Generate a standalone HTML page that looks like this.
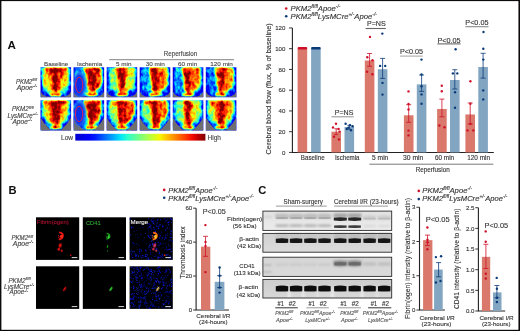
<!DOCTYPE html>
<html><head><meta charset="utf-8"><style>
html,body{margin:0;padding:0;background:#fff;width:520px;height:331px;overflow:hidden}
svg{display:block;will-change:transform}
text{font-family:"Liberation Sans", sans-serif}
</style></head><body><svg width="520" height="331" viewBox="0 0 520 331" font-family='"Liberation Sans", sans-serif'><defs><filter id="jet0" x="0" y="0" width="1" height="1" color-interpolation-filters="sRGB">
<feGaussianBlur in="SourceGraphic" stdDeviation="1.3" result="b"/>
<feTurbulence type="fractalNoise" baseFrequency="0.28 0.22" numOctaves="2" seed="3" result="n"/>
<feColorMatrix in="n" type="matrix" values="1 0 0 0 0  1 0 0 0 0  1 0 0 0 0  0 0 0 0 1" result="ng"/>
<feComposite in="b" in2="ng" operator="arithmetic" k1="0" k2="1" k3="0.5" k4="-0.25" result="c"/>
<feComponentTransfer in="c">
<feFuncR type="table" tableValues="0.000 0.000 0.000 0.000 0.000 0.000 0.000 0.000 0.000 0.000 0.000 0.000 0.000 0.000 0.000 0.081 0.161 0.242 0.323 0.403 0.484 0.565 0.645 0.726 0.806 0.887 0.968 1.000 1.000 1.000 1.000 1.000 1.000 1.000 1.000 1.000 0.955 0.841 0.727 0.614 0.500"/>
<feFuncG type="table" tableValues="0.000 0.000 0.000 0.000 0.000 0.000 0.100 0.200 0.300 0.400 0.500 0.600 0.700 0.800 0.900 1.000 1.000 1.000 1.000 1.000 1.000 1.000 1.000 1.000 1.000 1.000 0.963 0.870 0.778 0.685 0.593 0.500 0.407 0.315 0.222 0.130 0.037 0.000 0.000 0.000 0.000"/>
<feFuncB type="table" tableValues="0.800 0.845 0.891 0.936 0.982 1.000 1.000 1.000 1.000 1.000 1.000 1.000 1.000 1.000 0.968 0.887 0.806 0.726 0.645 0.565 0.484 0.403 0.323 0.242 0.161 0.081 0.000 0.000 0.000 0.000 0.000 0.000 0.000 0.000 0.000 0.000 0.000 0.000 0.000 0.000 0.000"/>
<feFuncA type="linear" slope="0" intercept="1"/>
</feComponentTransfer>
</filter><filter id="jet1" x="0" y="0" width="1" height="1" color-interpolation-filters="sRGB">
<feGaussianBlur in="SourceGraphic" stdDeviation="1.3" result="b"/>
<feTurbulence type="fractalNoise" baseFrequency="0.28 0.22" numOctaves="2" seed="10" result="n"/>
<feColorMatrix in="n" type="matrix" values="1 0 0 0 0  1 0 0 0 0  1 0 0 0 0  0 0 0 0 1" result="ng"/>
<feComposite in="b" in2="ng" operator="arithmetic" k1="0" k2="1" k3="0.5" k4="-0.25" result="c"/>
<feComponentTransfer in="c">
<feFuncR type="table" tableValues="0.000 0.000 0.000 0.000 0.000 0.000 0.000 0.000 0.000 0.000 0.000 0.000 0.000 0.000 0.000 0.081 0.161 0.242 0.323 0.403 0.484 0.565 0.645 0.726 0.806 0.887 0.968 1.000 1.000 1.000 1.000 1.000 1.000 1.000 1.000 1.000 0.955 0.841 0.727 0.614 0.500"/>
<feFuncG type="table" tableValues="0.000 0.000 0.000 0.000 0.000 0.000 0.100 0.200 0.300 0.400 0.500 0.600 0.700 0.800 0.900 1.000 1.000 1.000 1.000 1.000 1.000 1.000 1.000 1.000 1.000 1.000 0.963 0.870 0.778 0.685 0.593 0.500 0.407 0.315 0.222 0.130 0.037 0.000 0.000 0.000 0.000"/>
<feFuncB type="table" tableValues="0.800 0.845 0.891 0.936 0.982 1.000 1.000 1.000 1.000 1.000 1.000 1.000 1.000 1.000 0.968 0.887 0.806 0.726 0.645 0.565 0.484 0.403 0.323 0.242 0.161 0.081 0.000 0.000 0.000 0.000 0.000 0.000 0.000 0.000 0.000 0.000 0.000 0.000 0.000 0.000 0.000"/>
<feFuncA type="linear" slope="0" intercept="1"/>
</feComponentTransfer>
</filter><filter id="jet2" x="0" y="0" width="1" height="1" color-interpolation-filters="sRGB">
<feGaussianBlur in="SourceGraphic" stdDeviation="1.3" result="b"/>
<feTurbulence type="fractalNoise" baseFrequency="0.28 0.22" numOctaves="2" seed="17" result="n"/>
<feColorMatrix in="n" type="matrix" values="1 0 0 0 0  1 0 0 0 0  1 0 0 0 0  0 0 0 0 1" result="ng"/>
<feComposite in="b" in2="ng" operator="arithmetic" k1="0" k2="1" k3="0.5" k4="-0.25" result="c"/>
<feComponentTransfer in="c">
<feFuncR type="table" tableValues="0.000 0.000 0.000 0.000 0.000 0.000 0.000 0.000 0.000 0.000 0.000 0.000 0.000 0.000 0.000 0.081 0.161 0.242 0.323 0.403 0.484 0.565 0.645 0.726 0.806 0.887 0.968 1.000 1.000 1.000 1.000 1.000 1.000 1.000 1.000 1.000 0.955 0.841 0.727 0.614 0.500"/>
<feFuncG type="table" tableValues="0.000 0.000 0.000 0.000 0.000 0.000 0.100 0.200 0.300 0.400 0.500 0.600 0.700 0.800 0.900 1.000 1.000 1.000 1.000 1.000 1.000 1.000 1.000 1.000 1.000 1.000 0.963 0.870 0.778 0.685 0.593 0.500 0.407 0.315 0.222 0.130 0.037 0.000 0.000 0.000 0.000"/>
<feFuncB type="table" tableValues="0.800 0.845 0.891 0.936 0.982 1.000 1.000 1.000 1.000 1.000 1.000 1.000 1.000 1.000 0.968 0.887 0.806 0.726 0.645 0.565 0.484 0.403 0.323 0.242 0.161 0.081 0.000 0.000 0.000 0.000 0.000 0.000 0.000 0.000 0.000 0.000 0.000 0.000 0.000 0.000 0.000"/>
<feFuncA type="linear" slope="0" intercept="1"/>
</feComponentTransfer>
</filter><filter id="jet3" x="0" y="0" width="1" height="1" color-interpolation-filters="sRGB">
<feGaussianBlur in="SourceGraphic" stdDeviation="1.3" result="b"/>
<feTurbulence type="fractalNoise" baseFrequency="0.28 0.22" numOctaves="2" seed="24" result="n"/>
<feColorMatrix in="n" type="matrix" values="1 0 0 0 0  1 0 0 0 0  1 0 0 0 0  0 0 0 0 1" result="ng"/>
<feComposite in="b" in2="ng" operator="arithmetic" k1="0" k2="1" k3="0.5" k4="-0.25" result="c"/>
<feComponentTransfer in="c">
<feFuncR type="table" tableValues="0.000 0.000 0.000 0.000 0.000 0.000 0.000 0.000 0.000 0.000 0.000 0.000 0.000 0.000 0.000 0.081 0.161 0.242 0.323 0.403 0.484 0.565 0.645 0.726 0.806 0.887 0.968 1.000 1.000 1.000 1.000 1.000 1.000 1.000 1.000 1.000 0.955 0.841 0.727 0.614 0.500"/>
<feFuncG type="table" tableValues="0.000 0.000 0.000 0.000 0.000 0.000 0.100 0.200 0.300 0.400 0.500 0.600 0.700 0.800 0.900 1.000 1.000 1.000 1.000 1.000 1.000 1.000 1.000 1.000 1.000 1.000 0.963 0.870 0.778 0.685 0.593 0.500 0.407 0.315 0.222 0.130 0.037 0.000 0.000 0.000 0.000"/>
<feFuncB type="table" tableValues="0.800 0.845 0.891 0.936 0.982 1.000 1.000 1.000 1.000 1.000 1.000 1.000 1.000 1.000 0.968 0.887 0.806 0.726 0.645 0.565 0.484 0.403 0.323 0.242 0.161 0.081 0.000 0.000 0.000 0.000 0.000 0.000 0.000 0.000 0.000 0.000 0.000 0.000 0.000 0.000 0.000"/>
<feFuncA type="linear" slope="0" intercept="1"/>
</feComponentTransfer>
</filter><filter id="jet4" x="0" y="0" width="1" height="1" color-interpolation-filters="sRGB">
<feGaussianBlur in="SourceGraphic" stdDeviation="1.3" result="b"/>
<feTurbulence type="fractalNoise" baseFrequency="0.28 0.22" numOctaves="2" seed="31" result="n"/>
<feColorMatrix in="n" type="matrix" values="1 0 0 0 0  1 0 0 0 0  1 0 0 0 0  0 0 0 0 1" result="ng"/>
<feComposite in="b" in2="ng" operator="arithmetic" k1="0" k2="1" k3="0.5" k4="-0.25" result="c"/>
<feComponentTransfer in="c">
<feFuncR type="table" tableValues="0.000 0.000 0.000 0.000 0.000 0.000 0.000 0.000 0.000 0.000 0.000 0.000 0.000 0.000 0.000 0.081 0.161 0.242 0.323 0.403 0.484 0.565 0.645 0.726 0.806 0.887 0.968 1.000 1.000 1.000 1.000 1.000 1.000 1.000 1.000 1.000 0.955 0.841 0.727 0.614 0.500"/>
<feFuncG type="table" tableValues="0.000 0.000 0.000 0.000 0.000 0.000 0.100 0.200 0.300 0.400 0.500 0.600 0.700 0.800 0.900 1.000 1.000 1.000 1.000 1.000 1.000 1.000 1.000 1.000 1.000 1.000 0.963 0.870 0.778 0.685 0.593 0.500 0.407 0.315 0.222 0.130 0.037 0.000 0.000 0.000 0.000"/>
<feFuncB type="table" tableValues="0.800 0.845 0.891 0.936 0.982 1.000 1.000 1.000 1.000 1.000 1.000 1.000 1.000 1.000 0.968 0.887 0.806 0.726 0.645 0.565 0.484 0.403 0.323 0.242 0.161 0.081 0.000 0.000 0.000 0.000 0.000 0.000 0.000 0.000 0.000 0.000 0.000 0.000 0.000 0.000 0.000"/>
<feFuncA type="linear" slope="0" intercept="1"/>
</feComponentTransfer>
</filter><filter id="jet5" x="0" y="0" width="1" height="1" color-interpolation-filters="sRGB">
<feGaussianBlur in="SourceGraphic" stdDeviation="1.3" result="b"/>
<feTurbulence type="fractalNoise" baseFrequency="0.28 0.22" numOctaves="2" seed="38" result="n"/>
<feColorMatrix in="n" type="matrix" values="1 0 0 0 0  1 0 0 0 0  1 0 0 0 0  0 0 0 0 1" result="ng"/>
<feComposite in="b" in2="ng" operator="arithmetic" k1="0" k2="1" k3="0.5" k4="-0.25" result="c"/>
<feComponentTransfer in="c">
<feFuncR type="table" tableValues="0.000 0.000 0.000 0.000 0.000 0.000 0.000 0.000 0.000 0.000 0.000 0.000 0.000 0.000 0.000 0.081 0.161 0.242 0.323 0.403 0.484 0.565 0.645 0.726 0.806 0.887 0.968 1.000 1.000 1.000 1.000 1.000 1.000 1.000 1.000 1.000 0.955 0.841 0.727 0.614 0.500"/>
<feFuncG type="table" tableValues="0.000 0.000 0.000 0.000 0.000 0.000 0.100 0.200 0.300 0.400 0.500 0.600 0.700 0.800 0.900 1.000 1.000 1.000 1.000 1.000 1.000 1.000 1.000 1.000 1.000 1.000 0.963 0.870 0.778 0.685 0.593 0.500 0.407 0.315 0.222 0.130 0.037 0.000 0.000 0.000 0.000"/>
<feFuncB type="table" tableValues="0.800 0.845 0.891 0.936 0.982 1.000 1.000 1.000 1.000 1.000 1.000 1.000 1.000 1.000 0.968 0.887 0.806 0.726 0.645 0.565 0.484 0.403 0.323 0.242 0.161 0.081 0.000 0.000 0.000 0.000 0.000 0.000 0.000 0.000 0.000 0.000 0.000 0.000 0.000 0.000 0.000"/>
<feFuncA type="linear" slope="0" intercept="1"/>
</feComponentTransfer>
</filter><filter id="jet6" x="0" y="0" width="1" height="1" color-interpolation-filters="sRGB">
<feGaussianBlur in="SourceGraphic" stdDeviation="1.3" result="b"/>
<feTurbulence type="fractalNoise" baseFrequency="0.28 0.22" numOctaves="2" seed="45" result="n"/>
<feColorMatrix in="n" type="matrix" values="1 0 0 0 0  1 0 0 0 0  1 0 0 0 0  0 0 0 0 1" result="ng"/>
<feComposite in="b" in2="ng" operator="arithmetic" k1="0" k2="1" k3="0.5" k4="-0.25" result="c"/>
<feComponentTransfer in="c">
<feFuncR type="table" tableValues="0.000 0.000 0.000 0.000 0.000 0.000 0.000 0.000 0.000 0.000 0.000 0.000 0.000 0.000 0.000 0.081 0.161 0.242 0.323 0.403 0.484 0.565 0.645 0.726 0.806 0.887 0.968 1.000 1.000 1.000 1.000 1.000 1.000 1.000 1.000 1.000 0.955 0.841 0.727 0.614 0.500"/>
<feFuncG type="table" tableValues="0.000 0.000 0.000 0.000 0.000 0.000 0.100 0.200 0.300 0.400 0.500 0.600 0.700 0.800 0.900 1.000 1.000 1.000 1.000 1.000 1.000 1.000 1.000 1.000 1.000 1.000 0.963 0.870 0.778 0.685 0.593 0.500 0.407 0.315 0.222 0.130 0.037 0.000 0.000 0.000 0.000"/>
<feFuncB type="table" tableValues="0.800 0.845 0.891 0.936 0.982 1.000 1.000 1.000 1.000 1.000 1.000 1.000 1.000 1.000 0.968 0.887 0.806 0.726 0.645 0.565 0.484 0.403 0.323 0.242 0.161 0.081 0.000 0.000 0.000 0.000 0.000 0.000 0.000 0.000 0.000 0.000 0.000 0.000 0.000 0.000 0.000"/>
<feFuncA type="linear" slope="0" intercept="1"/>
</feComponentTransfer>
</filter><filter id="jet7" x="0" y="0" width="1" height="1" color-interpolation-filters="sRGB">
<feGaussianBlur in="SourceGraphic" stdDeviation="1.3" result="b"/>
<feTurbulence type="fractalNoise" baseFrequency="0.28 0.22" numOctaves="2" seed="52" result="n"/>
<feColorMatrix in="n" type="matrix" values="1 0 0 0 0  1 0 0 0 0  1 0 0 0 0  0 0 0 0 1" result="ng"/>
<feComposite in="b" in2="ng" operator="arithmetic" k1="0" k2="1" k3="0.5" k4="-0.25" result="c"/>
<feComponentTransfer in="c">
<feFuncR type="table" tableValues="0.000 0.000 0.000 0.000 0.000 0.000 0.000 0.000 0.000 0.000 0.000 0.000 0.000 0.000 0.000 0.081 0.161 0.242 0.323 0.403 0.484 0.565 0.645 0.726 0.806 0.887 0.968 1.000 1.000 1.000 1.000 1.000 1.000 1.000 1.000 1.000 0.955 0.841 0.727 0.614 0.500"/>
<feFuncG type="table" tableValues="0.000 0.000 0.000 0.000 0.000 0.000 0.100 0.200 0.300 0.400 0.500 0.600 0.700 0.800 0.900 1.000 1.000 1.000 1.000 1.000 1.000 1.000 1.000 1.000 1.000 1.000 0.963 0.870 0.778 0.685 0.593 0.500 0.407 0.315 0.222 0.130 0.037 0.000 0.000 0.000 0.000"/>
<feFuncB type="table" tableValues="0.800 0.845 0.891 0.936 0.982 1.000 1.000 1.000 1.000 1.000 1.000 1.000 1.000 1.000 0.968 0.887 0.806 0.726 0.645 0.565 0.484 0.403 0.323 0.242 0.161 0.081 0.000 0.000 0.000 0.000 0.000 0.000 0.000 0.000 0.000 0.000 0.000 0.000 0.000 0.000 0.000"/>
<feFuncA type="linear" slope="0" intercept="1"/>
</feComponentTransfer>
</filter><filter id="jet8" x="0" y="0" width="1" height="1" color-interpolation-filters="sRGB">
<feGaussianBlur in="SourceGraphic" stdDeviation="1.3" result="b"/>
<feTurbulence type="fractalNoise" baseFrequency="0.28 0.22" numOctaves="2" seed="59" result="n"/>
<feColorMatrix in="n" type="matrix" values="1 0 0 0 0  1 0 0 0 0  1 0 0 0 0  0 0 0 0 1" result="ng"/>
<feComposite in="b" in2="ng" operator="arithmetic" k1="0" k2="1" k3="0.5" k4="-0.25" result="c"/>
<feComponentTransfer in="c">
<feFuncR type="table" tableValues="0.000 0.000 0.000 0.000 0.000 0.000 0.000 0.000 0.000 0.000 0.000 0.000 0.000 0.000 0.000 0.081 0.161 0.242 0.323 0.403 0.484 0.565 0.645 0.726 0.806 0.887 0.968 1.000 1.000 1.000 1.000 1.000 1.000 1.000 1.000 1.000 0.955 0.841 0.727 0.614 0.500"/>
<feFuncG type="table" tableValues="0.000 0.000 0.000 0.000 0.000 0.000 0.100 0.200 0.300 0.400 0.500 0.600 0.700 0.800 0.900 1.000 1.000 1.000 1.000 1.000 1.000 1.000 1.000 1.000 1.000 1.000 0.963 0.870 0.778 0.685 0.593 0.500 0.407 0.315 0.222 0.130 0.037 0.000 0.000 0.000 0.000"/>
<feFuncB type="table" tableValues="0.800 0.845 0.891 0.936 0.982 1.000 1.000 1.000 1.000 1.000 1.000 1.000 1.000 1.000 0.968 0.887 0.806 0.726 0.645 0.565 0.484 0.403 0.323 0.242 0.161 0.081 0.000 0.000 0.000 0.000 0.000 0.000 0.000 0.000 0.000 0.000 0.000 0.000 0.000 0.000 0.000"/>
<feFuncA type="linear" slope="0" intercept="1"/>
</feComponentTransfer>
</filter><filter id="jet9" x="0" y="0" width="1" height="1" color-interpolation-filters="sRGB">
<feGaussianBlur in="SourceGraphic" stdDeviation="1.3" result="b"/>
<feTurbulence type="fractalNoise" baseFrequency="0.28 0.22" numOctaves="2" seed="66" result="n"/>
<feColorMatrix in="n" type="matrix" values="1 0 0 0 0  1 0 0 0 0  1 0 0 0 0  0 0 0 0 1" result="ng"/>
<feComposite in="b" in2="ng" operator="arithmetic" k1="0" k2="1" k3="0.5" k4="-0.25" result="c"/>
<feComponentTransfer in="c">
<feFuncR type="table" tableValues="0.000 0.000 0.000 0.000 0.000 0.000 0.000 0.000 0.000 0.000 0.000 0.000 0.000 0.000 0.000 0.081 0.161 0.242 0.323 0.403 0.484 0.565 0.645 0.726 0.806 0.887 0.968 1.000 1.000 1.000 1.000 1.000 1.000 1.000 1.000 1.000 0.955 0.841 0.727 0.614 0.500"/>
<feFuncG type="table" tableValues="0.000 0.000 0.000 0.000 0.000 0.000 0.100 0.200 0.300 0.400 0.500 0.600 0.700 0.800 0.900 1.000 1.000 1.000 1.000 1.000 1.000 1.000 1.000 1.000 1.000 1.000 0.963 0.870 0.778 0.685 0.593 0.500 0.407 0.315 0.222 0.130 0.037 0.000 0.000 0.000 0.000"/>
<feFuncB type="table" tableValues="0.800 0.845 0.891 0.936 0.982 1.000 1.000 1.000 1.000 1.000 1.000 1.000 1.000 1.000 0.968 0.887 0.806 0.726 0.645 0.565 0.484 0.403 0.323 0.242 0.161 0.081 0.000 0.000 0.000 0.000 0.000 0.000 0.000 0.000 0.000 0.000 0.000 0.000 0.000 0.000 0.000"/>
<feFuncA type="linear" slope="0" intercept="1"/>
</feComponentTransfer>
</filter><filter id="jet10" x="0" y="0" width="1" height="1" color-interpolation-filters="sRGB">
<feGaussianBlur in="SourceGraphic" stdDeviation="1.3" result="b"/>
<feTurbulence type="fractalNoise" baseFrequency="0.28 0.22" numOctaves="2" seed="73" result="n"/>
<feColorMatrix in="n" type="matrix" values="1 0 0 0 0  1 0 0 0 0  1 0 0 0 0  0 0 0 0 1" result="ng"/>
<feComposite in="b" in2="ng" operator="arithmetic" k1="0" k2="1" k3="0.5" k4="-0.25" result="c"/>
<feComponentTransfer in="c">
<feFuncR type="table" tableValues="0.000 0.000 0.000 0.000 0.000 0.000 0.000 0.000 0.000 0.000 0.000 0.000 0.000 0.000 0.000 0.081 0.161 0.242 0.323 0.403 0.484 0.565 0.645 0.726 0.806 0.887 0.968 1.000 1.000 1.000 1.000 1.000 1.000 1.000 1.000 1.000 0.955 0.841 0.727 0.614 0.500"/>
<feFuncG type="table" tableValues="0.000 0.000 0.000 0.000 0.000 0.000 0.100 0.200 0.300 0.400 0.500 0.600 0.700 0.800 0.900 1.000 1.000 1.000 1.000 1.000 1.000 1.000 1.000 1.000 1.000 1.000 0.963 0.870 0.778 0.685 0.593 0.500 0.407 0.315 0.222 0.130 0.037 0.000 0.000 0.000 0.000"/>
<feFuncB type="table" tableValues="0.800 0.845 0.891 0.936 0.982 1.000 1.000 1.000 1.000 1.000 1.000 1.000 1.000 1.000 0.968 0.887 0.806 0.726 0.645 0.565 0.484 0.403 0.323 0.242 0.161 0.081 0.000 0.000 0.000 0.000 0.000 0.000 0.000 0.000 0.000 0.000 0.000 0.000 0.000 0.000 0.000"/>
<feFuncA type="linear" slope="0" intercept="1"/>
</feComponentTransfer>
</filter><filter id="jet11" x="0" y="0" width="1" height="1" color-interpolation-filters="sRGB">
<feGaussianBlur in="SourceGraphic" stdDeviation="1.3" result="b"/>
<feTurbulence type="fractalNoise" baseFrequency="0.28 0.22" numOctaves="2" seed="80" result="n"/>
<feColorMatrix in="n" type="matrix" values="1 0 0 0 0  1 0 0 0 0  1 0 0 0 0  0 0 0 0 1" result="ng"/>
<feComposite in="b" in2="ng" operator="arithmetic" k1="0" k2="1" k3="0.5" k4="-0.25" result="c"/>
<feComponentTransfer in="c">
<feFuncR type="table" tableValues="0.000 0.000 0.000 0.000 0.000 0.000 0.000 0.000 0.000 0.000 0.000 0.000 0.000 0.000 0.000 0.081 0.161 0.242 0.323 0.403 0.484 0.565 0.645 0.726 0.806 0.887 0.968 1.000 1.000 1.000 1.000 1.000 1.000 1.000 1.000 1.000 0.955 0.841 0.727 0.614 0.500"/>
<feFuncG type="table" tableValues="0.000 0.000 0.000 0.000 0.000 0.000 0.100 0.200 0.300 0.400 0.500 0.600 0.700 0.800 0.900 1.000 1.000 1.000 1.000 1.000 1.000 1.000 1.000 1.000 1.000 1.000 0.963 0.870 0.778 0.685 0.593 0.500 0.407 0.315 0.222 0.130 0.037 0.000 0.000 0.000 0.000"/>
<feFuncB type="table" tableValues="0.800 0.845 0.891 0.936 0.982 1.000 1.000 1.000 1.000 1.000 1.000 1.000 1.000 1.000 0.968 0.887 0.806 0.726 0.645 0.565 0.484 0.403 0.323 0.242 0.161 0.081 0.000 0.000 0.000 0.000 0.000 0.000 0.000 0.000 0.000 0.000 0.000 0.000 0.000 0.000 0.000"/>
<feFuncA type="linear" slope="0" intercept="1"/>
</feComponentTransfer>
</filter><linearGradient id="cbar" x1="0" x2="1" y1="0" y2="0"><stop offset="0.00" stop-color="#0000cc"/><stop offset="0.05" stop-color="#0000e3"/><stop offset="0.10" stop-color="#0000fa"/><stop offset="0.15" stop-color="#0019ff"/><stop offset="0.20" stop-color="#004dff"/><stop offset="0.25" stop-color="#0080ff"/><stop offset="0.30" stop-color="#00b2ff"/><stop offset="0.35" stop-color="#00e5f7"/><stop offset="0.40" stop-color="#29ffce"/><stop offset="0.45" stop-color="#52ffa5"/><stop offset="0.50" stop-color="#7bff7b"/><stop offset="0.55" stop-color="#a5ff52"/><stop offset="0.60" stop-color="#ceff29"/><stop offset="0.65" stop-color="#f7f600"/><stop offset="0.70" stop-color="#ffc600"/><stop offset="0.75" stop-color="#ff9700"/><stop offset="0.80" stop-color="#ff6800"/><stop offset="0.85" stop-color="#ff3900"/><stop offset="0.90" stop-color="#f30900"/><stop offset="0.95" stop-color="#b90000"/><stop offset="1.00" stop-color="#800000"/></linearGradient><filter id="isch" x="-30%" y="-30%" width="160%" height="160%"><feGaussianBlur stdDeviation="0.9"/></filter><clipPath id="cp0"><rect x="40.5" y="67.2" width="30.6" height="30.1"/></clipPath><clipPath id="cp1"><rect x="73.56" y="67.2" width="30.6" height="30.1"/></clipPath><clipPath id="cp2"><rect x="106.62" y="67.2" width="30.6" height="30.1"/></clipPath><clipPath id="cp3"><rect x="139.68" y="67.2" width="30.6" height="30.1"/></clipPath><clipPath id="cp4"><rect x="172.74" y="67.2" width="30.6" height="30.1"/></clipPath><clipPath id="cp5"><rect x="205.8" y="67.2" width="30.6" height="30.1"/></clipPath><clipPath id="cp6"><rect x="40.5" y="100.3" width="30.6" height="30.1"/></clipPath><clipPath id="cp7"><rect x="73.56" y="100.3" width="30.6" height="30.1"/></clipPath><clipPath id="cp8"><rect x="106.62" y="100.3" width="30.6" height="30.1"/></clipPath><clipPath id="cp9"><rect x="139.68" y="100.3" width="30.6" height="30.1"/></clipPath><clipPath id="cp10"><rect x="172.74" y="100.3" width="30.6" height="30.1"/></clipPath><clipPath id="cp11"><rect x="205.8" y="100.3" width="30.6" height="30.1"/></clipPath><filter id="soft" x="-50%" y="-50%" width="200%" height="200%"><feGaussianBlur stdDeviation="0.45"/></filter><filter id="bsoft" x="-20%" y="-60%" width="140%" height="220%"><feGaussianBlur stdDeviation="0.55 0.7"/></filter><filter id="bsoft2" x="-20%" y="-50%" width="140%" height="200%"><feGaussianBlur stdDeviation="1.2 1.0"/></filter><linearGradient id="g1" x1="0" y1="0" x2="0" y2="1"><stop offset="0" stop-color="#e2e2e2"/><stop offset="1" stop-color="#ececec"/></linearGradient><linearGradient id="g2" x1="0" y1="0" x2="0" y2="1"><stop offset="0" stop-color="#d0d0d0"/><stop offset="0.5" stop-color="#d6d6d6"/><stop offset="1" stop-color="#dcdcdc"/></linearGradient><linearGradient id="g3" x1="0" y1="0" x2="0" y2="1"><stop offset="0" stop-color="#d6d6d6"/><stop offset="1" stop-color="#dadada"/></linearGradient><linearGradient id="g4" x1="0" y1="0" x2="0" y2="1"><stop offset="0" stop-color="#cdcdcd"/><stop offset="0.5" stop-color="#d2d2d2"/><stop offset="1" stop-color="#d8d8d8"/></linearGradient></defs><rect x="0" y="0" width="520" height="331" fill="#fff"/><text x="7.4" y="49.3" font-size="11.6" fill="#111" font-weight="bold">A</text><text x="44" y="66.0" font-size="6.2" fill="#4a4a4a" textLength="24.3" lengthAdjust="spacingAndGlyphs" stroke="#4a4a4a" stroke-width="0.12">Baseline</text><text x="77" y="66.0" font-size="6.2" fill="#4a4a4a" textLength="25.2" lengthAdjust="spacingAndGlyphs" stroke="#4a4a4a" stroke-width="0.12">Ischemia</text><text x="116.1" y="66.0" font-size="6.2" fill="#4a4a4a" textLength="15.4" lengthAdjust="spacingAndGlyphs" stroke="#4a4a4a" stroke-width="0.12">5 min</text><text x="145.7" y="66.0" font-size="6.2" fill="#4a4a4a" textLength="19.2" lengthAdjust="spacingAndGlyphs" stroke="#4a4a4a" stroke-width="0.12">30 min</text><text x="178" y="66.0" font-size="6.2" fill="#4a4a4a" textLength="19.2" lengthAdjust="spacingAndGlyphs" stroke="#4a4a4a" stroke-width="0.12">60 min</text><text x="210.3" y="66.0" font-size="6.2" fill="#4a4a4a" textLength="22.6" lengthAdjust="spacingAndGlyphs" stroke="#4a4a4a" stroke-width="0.12">120 min</text><line x1="109.2" y1="59.7" x2="234" y2="59.7" stroke="#9a9a9a" stroke-width="1.2"/><text x="163.8" y="56.3" font-size="6.6" fill="#444" textLength="33.4" lengthAdjust="spacingAndGlyphs" stroke="#444" stroke-width="0.12">Reperfusion</text><text x="37.1" y="83.6" font-size="6.6" fill="#404040" text-anchor="end" font-style="italic" textLength="21.2" lengthAdjust="spacingAndGlyphs" stroke="#404040" stroke-width="0.12">PKM2<tspan font-size="4.22" dy="-2.44">fl/fl</tspan></text><text x="37.1" y="89.8" font-size="6.6" fill="#404040" text-anchor="end" font-style="italic" textLength="20.4" lengthAdjust="spacingAndGlyphs" stroke="#404040" stroke-width="0.12">Apoe<tspan font-size="4.22" dy="-2.44">-/-</tspan></text><text x="22.8" y="111.4" font-size="6.6" fill="#404040" text-anchor="middle" font-style="italic" textLength="21.8" lengthAdjust="spacingAndGlyphs" stroke="#404040" stroke-width="0.12">PKM2<tspan font-size="4.22" dy="-2.44">fl/fl</tspan></text><text x="22.6" y="117.8" font-size="6.6" fill="#404040" text-anchor="middle" font-style="italic" textLength="30.2" lengthAdjust="spacingAndGlyphs" stroke="#404040" stroke-width="0.12">LysMCre<tspan font-size="4.22" dy="-2.44">+/-</tspan></text><text x="22.2" y="123.7" font-size="6.6" fill="#404040" text-anchor="middle" font-style="italic" textLength="19.6" lengthAdjust="spacingAndGlyphs" stroke="#404040" stroke-width="0.12">Apoe<tspan font-size="4.22" dy="-2.44">-/-</tspan></text><g clip-path="url(#cp0)"><g filter="url(#jet0)"><rect x="40.5" y="67.2" width="30.6" height="30.1" fill="#212121"/><path d="M41.72,67.20 L69.88,67.20 L70.49,82.25 L68.04,91.28 L59.47,96.40 L52.13,96.40 L43.56,91.28 L41.11,82.25 Z" fill="#575757"/><path d="M43.56,67.20 L55.80,67.20 L55.80,92.78 L49.68,91.28 L44.17,86.77 L42.95,77.73 Z" fill="#a8a8a8"/><path d="M55.80,67.20 L68.04,67.20 L68.65,77.73 L67.43,86.77 L61.92,91.28 L55.80,92.78 Z" fill="#a8a8a8"/><path d="M44.17,67.20 L67.43,67.20 L64.98,72.62 L46.62,72.62 Z" fill="#ebebeb"/><path d="M47.23,67.20 L64.37,67.20 L58.86,91.28 L52.74,91.28 Z" fill="#dbdbdb"/><path d="M50.60,67.20 L61.00,67.20 L57.33,91.88 L54.27,91.88 Z" fill="#fafafa"/><ellipse cx="55.80" cy="94.29" rx="6.12" ry="1.66" fill="#f7f7f7"/></g><path d="M40.50,91.28 L42.34,94.29 L47.23,97.30 L40.50,97.30 Z" fill="#6f6f6f"/><path d="M71.10,91.28 L69.26,94.29 L64.37,97.30 L71.10,97.30 Z" fill="#6f6f6f"/><rect x="40.5" y="96.50000000000001" width="30.6" height="0.8" fill="#6f6f6f"/></g><g clip-path="url(#cp1)"><g filter="url(#jet1)"><rect x="73.56" y="67.2" width="30.6" height="30.1" fill="#212121"/><path d="M74.78,67.20 L102.94,67.20 L103.55,82.25 L101.10,91.28 L92.53,96.40 L85.19,96.40 L76.62,91.28 L74.17,82.25 Z" fill="#4c4c4c"/><path d="M76.62,67.20 L88.86,67.20 L88.86,92.78 L82.74,91.28 L77.23,86.77 L76.01,77.73 Z" fill="#4c4c4c"/><path d="M88.86,67.20 L101.10,67.20 L101.71,77.73 L100.49,86.77 L94.98,91.28 L88.86,92.78 Z" fill="#cccccc"/><ellipse cx="95.59" cy="79.24" rx="4.28" ry="9.03" fill="#e6e6e6"/><path d="M83.96,67.20 L99.88,67.20 L94.98,91.28 L88.86,91.28 Z" fill="#e6e6e6"/><path d="M87.64,67.20 L96.20,67.20 L93.45,91.88 L90.39,91.88 Z" fill="#f7f7f7"/><ellipse cx="91.92" cy="94.29" rx="6.12" ry="1.66" fill="#f7f7f7"/></g><path d="M73.56,91.28 L75.40,94.29 L80.29,97.30 L73.56,97.30 Z" fill="#6f6f6f"/><path d="M104.16,91.28 L102.32,94.29 L97.43,97.30 L104.16,97.30 Z" fill="#6f6f6f"/><rect x="73.56" y="96.50000000000001" width="30.6" height="0.8" fill="#6f6f6f"/><g filter="url(#isch)"><ellipse cx="79.68" cy="84.36" rx="6.43" ry="12.94" fill="#2a7aff"/><ellipse cx="79.37" cy="84.96" rx="5.20" ry="11.14" fill="#0c2ee8"/></g><ellipse cx="79.22" cy="84.96" rx="3.52" ry="7.74" fill="none" stroke="#d8205a" stroke-width="1"/></g><g clip-path="url(#cp2)"><g filter="url(#jet2)"><rect x="106.62" y="67.2" width="30.6" height="30.1" fill="#212121"/><path d="M107.84,67.20 L136.00,67.20 L136.61,82.25 L134.16,91.28 L125.59,96.40 L118.25,96.40 L109.68,91.28 L107.23,82.25 Z" fill="#424242"/><path d="M109.68,67.20 L121.92,67.20 L121.92,92.78 L115.80,91.28 L110.29,86.77 L109.07,77.73 Z" fill="#707070"/><path d="M121.92,67.20 L134.16,67.20 L134.77,77.73 L133.55,86.77 L128.04,91.28 L121.92,92.78 Z" fill="#a8a8a8"/><ellipse cx="114.88" cy="80.75" rx="4.59" ry="8.43" fill="#858585"/><ellipse cx="128.65" cy="79.24" rx="4.28" ry="9.03" fill="#999999"/><path d="M115.80,67.20 L128.04,67.20 L124.98,91.28 L118.86,91.28 Z" fill="#dbdbdb"/><path d="M117.94,67.20 L125.90,67.20 L123.45,91.88 L120.39,91.88 Z" fill="#fafafa"/><ellipse cx="121.92" cy="94.29" rx="6.12" ry="1.66" fill="#f7f7f7"/></g><path d="M106.62,91.28 L108.46,94.29 L113.35,97.30 L106.62,97.30 Z" fill="#6f6f6f"/><path d="M137.22,91.28 L135.38,94.29 L130.49,97.30 L137.22,97.30 Z" fill="#6f6f6f"/><rect x="106.62" y="96.50000000000001" width="30.6" height="0.8" fill="#6f6f6f"/></g><g clip-path="url(#cp3)"><g filter="url(#jet3)"><rect x="139.68" y="67.2" width="30.6" height="30.1" fill="#212121"/><path d="M140.90,67.20 L169.06,67.20 L169.67,82.25 L167.22,91.28 L158.65,96.40 L151.31,96.40 L142.74,91.28 L140.29,82.25 Z" fill="#383838"/><path d="M142.74,67.20 L154.98,67.20 L154.98,92.78 L148.86,91.28 L143.35,86.77 L142.13,77.73 Z" fill="#575757"/><path d="M154.98,67.20 L167.22,67.20 L167.83,77.73 L166.61,86.77 L161.10,91.28 L154.98,92.78 Z" fill="#cccccc"/><ellipse cx="147.94" cy="80.75" rx="4.59" ry="8.43" fill="#474747"/><path d="M148.86,67.20 L161.10,67.20 L158.04,91.28 L151.92,91.28 Z" fill="#e0e0e0"/><path d="M151.92,67.20 L158.04,67.20 L156.51,91.88 L153.45,91.88 Z" fill="#f7f7f7"/><ellipse cx="154.98" cy="94.29" rx="6.12" ry="1.66" fill="#f7f7f7"/></g><path d="M139.68,91.28 L141.52,94.29 L146.41,97.30 L139.68,97.30 Z" fill="#6f6f6f"/><path d="M170.28,91.28 L168.44,94.29 L163.55,97.30 L170.28,97.30 Z" fill="#6f6f6f"/><rect x="139.68" y="96.50000000000001" width="30.6" height="0.8" fill="#6f6f6f"/></g><g clip-path="url(#cp4)"><g filter="url(#jet4)"><rect x="172.74" y="67.2" width="30.6" height="30.1" fill="#212121"/><path d="M173.96,67.20 L202.12,67.20 L202.73,82.25 L200.28,91.28 L191.71,96.40 L184.37,96.40 L175.80,91.28 L173.35,82.25 Z" fill="#383838"/><path d="M175.80,67.20 L188.04,67.20 L188.04,92.78 L181.92,91.28 L176.41,86.77 L175.19,77.73 Z" fill="#525252"/><path d="M188.04,67.20 L200.28,67.20 L200.89,77.73 L199.67,86.77 L194.16,91.28 L188.04,92.78 Z" fill="#c7c7c7"/><ellipse cx="181.00" cy="80.75" rx="4.59" ry="8.43" fill="#424242"/><path d="M181.92,67.20 L194.16,67.20 L191.10,91.28 L184.98,91.28 Z" fill="#dedede"/><path d="M184.98,67.20 L191.10,67.20 L189.57,91.88 L186.51,91.88 Z" fill="#f7f7f7"/><ellipse cx="188.04" cy="94.29" rx="6.12" ry="1.66" fill="#f7f7f7"/></g><path d="M172.74,91.28 L174.58,94.29 L179.47,97.30 L172.74,97.30 Z" fill="#6f6f6f"/><path d="M203.34,91.28 L201.50,94.29 L196.61,97.30 L203.34,97.30 Z" fill="#6f6f6f"/><rect x="172.74" y="96.50000000000001" width="30.6" height="0.8" fill="#6f6f6f"/></g><g clip-path="url(#cp5)"><g filter="url(#jet5)"><rect x="205.8" y="67.2" width="30.6" height="30.1" fill="#212121"/><path d="M207.02,67.20 L235.18,67.20 L235.79,82.25 L233.34,91.28 L224.77,96.40 L217.43,96.40 L208.86,91.28 L206.41,82.25 Z" fill="#333333"/><path d="M208.86,67.20 L221.10,67.20 L221.10,92.78 L214.98,91.28 L209.47,86.77 L208.25,77.73 Z" fill="#4c4c4c"/><path d="M221.10,67.20 L233.34,67.20 L233.95,77.73 L232.73,86.77 L227.22,91.28 L221.10,92.78 Z" fill="#c2c2c2"/><ellipse cx="214.06" cy="80.75" rx="4.59" ry="8.43" fill="#3d3d3d"/><path d="M214.98,67.20 L227.22,67.20 L224.16,91.28 L218.04,91.28 Z" fill="#dbdbdb"/><path d="M218.04,67.20 L224.16,67.20 L222.63,91.88 L219.57,91.88 Z" fill="#f5f5f5"/><ellipse cx="221.10" cy="94.29" rx="6.12" ry="1.66" fill="#f7f7f7"/></g><path d="M205.80,91.28 L207.64,94.29 L212.53,97.30 L205.80,97.30 Z" fill="#6f6f6f"/><path d="M236.40,91.28 L234.56,94.29 L229.67,97.30 L236.40,97.30 Z" fill="#6f6f6f"/><rect x="205.8" y="96.50000000000001" width="30.6" height="0.8" fill="#6f6f6f"/></g><g clip-path="url(#cp6)"><g filter="url(#jet6)"><rect x="40.5" y="100.3" width="30.6" height="30.1" fill="#212121"/><path d="M41.42,100.30 L70.18,100.30 L70.49,115.35 L66.82,121.37 L60.70,128.29 L50.90,128.29 L44.78,121.37 L41.11,115.35 Z" fill="#575757"/><path d="M43.56,100.30 L55.80,100.30 L55.80,125.88 L51.52,124.38 L46.01,118.96 L43.25,112.34 Z" fill="#a8a8a8"/><path d="M55.80,100.30 L68.04,100.30 L68.35,112.34 L65.59,118.96 L60.08,124.38 L55.80,125.88 Z" fill="#adadad"/><path d="M44.17,100.30 L67.43,100.30 L64.98,105.72 L46.62,105.72 Z" fill="#ededed"/><path d="M47.23,100.30 L64.37,100.30 L58.86,124.38 L52.74,124.38 Z" fill="#e0e0e0"/><path d="M50.60,100.30 L61.00,100.30 L57.33,124.98 L54.27,124.98 Z" fill="#fafafa"/><ellipse cx="55.80" cy="127.39" rx="6.12" ry="1.66" fill="#f7f7f7"/></g><path d="M40.50,117.46 L44.17,123.18 L50.90,130.40 L40.50,130.40 Z" fill="#6f6f6f"/><path d="M71.10,117.46 L67.43,123.18 L60.70,130.40 L71.10,130.40 Z" fill="#6f6f6f"/><rect x="40.5" y="129.6" width="30.6" height="0.8" fill="#6f6f6f"/></g><g clip-path="url(#cp7)"><g filter="url(#jet7)"><rect x="73.56" y="100.3" width="30.6" height="30.1" fill="#212121"/><path d="M74.48,100.30 L103.24,100.30 L103.55,115.35 L99.88,121.37 L93.76,128.29 L83.96,128.29 L77.84,121.37 L74.17,115.35 Z" fill="#4c4c4c"/><path d="M76.62,100.30 L88.86,100.30 L88.86,125.88 L84.58,124.38 L79.07,118.96 L76.31,112.34 Z" fill="#4c4c4c"/><path d="M88.86,100.30 L101.10,100.30 L101.41,112.34 L98.65,118.96 L93.14,124.38 L88.86,125.88 Z" fill="#d6d6d6"/><ellipse cx="95.59" cy="112.34" rx="4.28" ry="9.03" fill="#e6e6e6"/><path d="M83.96,100.30 L99.88,100.30 L94.98,124.38 L88.86,124.38 Z" fill="#e8e8e8"/><path d="M87.33,100.30 L96.51,100.30 L93.45,124.98 L90.39,124.98 Z" fill="#fafafa"/><ellipse cx="91.92" cy="127.39" rx="6.12" ry="1.66" fill="#f7f7f7"/></g><path d="M73.56,117.46 L77.23,123.18 L83.96,130.40 L73.56,130.40 Z" fill="#6f6f6f"/><path d="M104.16,117.46 L100.49,123.18 L93.76,130.40 L104.16,130.40 Z" fill="#6f6f6f"/><rect x="73.56" y="129.6" width="30.6" height="0.8" fill="#6f6f6f"/><g filter="url(#isch)"><ellipse cx="79.68" cy="113.39" rx="6.43" ry="12.94" fill="#2a7aff"/><ellipse cx="79.37" cy="114.00" rx="5.20" ry="11.14" fill="#0c2ee8"/></g><ellipse cx="79.07" cy="114.00" rx="3.67" ry="7.68" fill="none" stroke="#d8205a" stroke-width="1"/></g><g clip-path="url(#cp8)"><g filter="url(#jet8)"><rect x="106.62" y="100.3" width="30.6" height="30.1" fill="#212121"/><path d="M107.54,100.30 L136.30,100.30 L136.61,115.35 L132.94,121.37 L126.82,128.29 L117.02,128.29 L110.90,121.37 L107.23,115.35 Z" fill="#4c4c4c"/><path d="M109.68,100.30 L121.92,100.30 L121.92,125.88 L117.64,124.38 L112.13,118.96 L109.37,112.34 Z" fill="#949494"/><path d="M121.92,100.30 L134.16,100.30 L134.47,112.34 L131.71,118.96 L126.20,124.38 L121.92,125.88 Z" fill="#d6d6d6"/><ellipse cx="114.88" cy="113.84" rx="4.59" ry="8.43" fill="#8c8c8c"/><path d="M110.29,100.30 L133.55,100.30 L131.10,105.72 L112.74,105.72 Z" fill="#d1d1d1"/><path d="M116.41,100.30 L127.43,100.30 L124.98,124.38 L118.86,124.38 Z" fill="#e6e6e6"/><path d="M118.25,100.30 L125.59,100.30 L123.45,124.98 L120.39,124.98 Z" fill="#fafafa"/><ellipse cx="121.92" cy="127.39" rx="6.12" ry="1.66" fill="#f7f7f7"/></g><path d="M106.62,117.46 L110.29,123.18 L117.02,130.40 L106.62,130.40 Z" fill="#6f6f6f"/><path d="M137.22,117.46 L133.55,123.18 L126.82,130.40 L137.22,130.40 Z" fill="#6f6f6f"/><rect x="106.62" y="129.6" width="30.6" height="0.8" fill="#6f6f6f"/></g><g clip-path="url(#cp9)"><g filter="url(#jet9)"><rect x="139.68" y="100.3" width="30.6" height="30.1" fill="#212121"/><path d="M140.60,100.30 L169.36,100.30 L169.67,115.35 L166.00,121.37 L159.88,128.29 L150.08,128.29 L143.96,121.37 L140.29,115.35 Z" fill="#4c4c4c"/><path d="M142.74,100.30 L154.98,100.30 L154.98,125.88 L150.70,124.38 L145.19,118.96 L142.43,112.34 Z" fill="#8c8c8c"/><path d="M154.98,100.30 L167.22,100.30 L167.53,112.34 L164.77,118.96 L159.26,124.38 L154.98,125.88 Z" fill="#cccccc"/><ellipse cx="147.94" cy="113.84" rx="4.59" ry="8.43" fill="#808080"/><path d="M143.35,100.30 L166.61,100.30 L164.16,105.72 L145.80,105.72 Z" fill="#d1d1d1"/><path d="M149.47,100.30 L160.49,100.30 L158.04,124.38 L151.92,124.38 Z" fill="#e3e3e3"/><path d="M151.61,100.30 L158.35,100.30 L156.51,124.98 L153.45,124.98 Z" fill="#fafafa"/><ellipse cx="154.98" cy="127.39" rx="6.12" ry="1.66" fill="#f7f7f7"/></g><path d="M139.68,117.46 L143.35,123.18 L150.08,130.40 L139.68,130.40 Z" fill="#6f6f6f"/><path d="M170.28,117.46 L166.61,123.18 L159.88,130.40 L170.28,130.40 Z" fill="#6f6f6f"/><rect x="139.68" y="129.6" width="30.6" height="0.8" fill="#6f6f6f"/></g><g clip-path="url(#cp10)"><g filter="url(#jet10)"><rect x="172.74" y="100.3" width="30.6" height="30.1" fill="#212121"/><path d="M173.66,100.30 L202.42,100.30 L202.73,115.35 L199.06,121.37 L192.94,128.29 L183.14,128.29 L177.02,121.37 L173.35,115.35 Z" fill="#4c4c4c"/><path d="M175.80,100.30 L188.04,100.30 L188.04,125.88 L183.76,124.38 L178.25,118.96 L175.49,112.34 Z" fill="#858585"/><path d="M188.04,100.30 L200.28,100.30 L200.59,112.34 L197.83,118.96 L192.32,124.38 L188.04,125.88 Z" fill="#9e9e9e"/><ellipse cx="181.00" cy="113.84" rx="4.59" ry="8.43" fill="#808080"/><ellipse cx="194.77" cy="112.34" rx="4.28" ry="9.03" fill="#999999"/><path d="M183.14,100.30 L192.94,100.30 L191.10,124.38 L184.98,124.38 Z" fill="#e0e0e0"/><path d="M184.98,100.30 L191.10,100.30 L189.57,124.98 L186.51,124.98 Z" fill="#fafafa"/><ellipse cx="188.04" cy="127.39" rx="6.12" ry="1.66" fill="#f7f7f7"/></g><path d="M172.74,117.46 L176.41,123.18 L183.14,130.40 L172.74,130.40 Z" fill="#6f6f6f"/><path d="M203.34,117.46 L199.67,123.18 L192.94,130.40 L203.34,130.40 Z" fill="#6f6f6f"/><rect x="172.74" y="129.6" width="30.6" height="0.8" fill="#6f6f6f"/></g><g clip-path="url(#cp11)"><g filter="url(#jet11)"><rect x="205.8" y="100.3" width="30.6" height="30.1" fill="#212121"/><path d="M206.72,100.30 L235.48,100.30 L235.79,115.35 L232.12,121.37 L226.00,128.29 L216.20,128.29 L210.08,121.37 L206.41,115.35 Z" fill="#4c4c4c"/><path d="M208.86,100.30 L221.10,100.30 L221.10,125.88 L216.82,124.38 L211.31,118.96 L208.55,112.34 Z" fill="#9e9e9e"/><path d="M221.10,100.30 L233.34,100.30 L233.65,112.34 L230.89,118.96 L225.38,124.38 L221.10,125.88 Z" fill="#b2b2b2"/><path d="M209.47,100.30 L232.73,100.30 L230.28,105.72 L211.92,105.72 Z" fill="#d9d9d9"/><path d="M214.98,100.30 L227.22,100.30 L224.16,124.38 L218.04,124.38 Z" fill="#e0e0e0"/><path d="M217.73,100.30 L224.47,100.30 L222.63,124.98 L219.57,124.98 Z" fill="#fafafa"/><ellipse cx="221.10" cy="127.39" rx="6.12" ry="1.66" fill="#f7f7f7"/></g><path d="M205.80,117.46 L209.47,123.18 L216.20,130.40 L205.80,130.40 Z" fill="#6f6f6f"/><path d="M236.40,117.46 L232.73,123.18 L226.00,130.40 L236.40,130.40 Z" fill="#6f6f6f"/><rect x="205.8" y="129.6" width="30.6" height="0.8" fill="#6f6f6f"/></g><rect x="75.3" y="133.8" width="130.1" height="6.8" fill="url(#cbar)"/><text x="61" y="140" font-size="6.6" fill="#444" textLength="12.1" lengthAdjust="spacingAndGlyphs" stroke="#444" stroke-width="0.12">Low</text><text x="207.5" y="140" font-size="6.6" fill="#444" textLength="13.5" lengthAdjust="spacingAndGlyphs" stroke="#444" stroke-width="0.12">High</text><path d="M292.4,27.95 V152.45 H493.8" stroke="#222" stroke-width="1.1" fill="none"/><line x1="289" y1="152.45" x2="292.4" y2="152.45" stroke="#222" stroke-width="0.9"/><text x="285.4" y="154.65" font-size="6.1" fill="#333" text-anchor="end" stroke="#333" stroke-width="0.12">0</text><line x1="289" y1="131.70" x2="292.4" y2="131.70" stroke="#222" stroke-width="0.9"/><text x="285.4" y="133.9" font-size="6.1" fill="#333" text-anchor="end" stroke="#333" stroke-width="0.12">20</text><line x1="289" y1="110.95" x2="292.4" y2="110.95" stroke="#222" stroke-width="0.9"/><text x="285.4" y="113.15" font-size="6.1" fill="#333" text-anchor="end" stroke="#333" stroke-width="0.12">40</text><line x1="289" y1="90.20" x2="292.4" y2="90.20" stroke="#222" stroke-width="0.9"/><text x="285.4" y="92.4" font-size="6.1" fill="#333" text-anchor="end" stroke="#333" stroke-width="0.12">60</text><line x1="289" y1="69.45" x2="292.4" y2="69.45" stroke="#222" stroke-width="0.9"/><text x="285.4" y="71.65" font-size="6.1" fill="#333" text-anchor="end" stroke="#333" stroke-width="0.12">80</text><line x1="289" y1="48.70" x2="292.4" y2="48.70" stroke="#222" stroke-width="0.9"/><text x="285.4" y="50.9" font-size="6.1" fill="#333" text-anchor="end" stroke="#333" stroke-width="0.12">100</text><line x1="289" y1="27.95" x2="292.4" y2="27.95" stroke="#222" stroke-width="0.9"/><text x="285.4" y="30.15" font-size="6.1" fill="#333" text-anchor="end" stroke="#333" stroke-width="0.12">120</text><rect x="297.6" y="48.70" width="9.6" height="103.75" fill="#d9786b"/><rect x="311.1" y="48.70" width="9.6" height="103.75" fill="#82a5c2"/><rect x="331.4" y="131.70" width="9.6" height="20.75" fill="#d9786b"/><rect x="344.5" y="127.03" width="9.6" height="25.42" fill="#82a5c2"/><rect x="364.8" y="60.53" width="9.6" height="91.92" fill="#d9786b"/><rect x="377.8" y="69.24" width="9.6" height="83.21" fill="#82a5c2"/><rect x="403.9" y="115.31" width="9.6" height="37.14" fill="#d9786b"/><rect x="416.8" y="84.39" width="9.6" height="68.06" fill="#82a5c2"/><rect x="437.1" y="108.98" width="9.6" height="43.47" fill="#d9786b"/><rect x="450.0" y="80.03" width="9.6" height="72.42" fill="#82a5c2"/><rect x="465.4" y="114.48" width="9.6" height="37.97" fill="#d9786b"/><rect x="478.3" y="66.96" width="9.6" height="85.49" fill="#82a5c2"/><rect x="297.6" y="47.1" width="9.6" height="2.3" rx="1" fill="#d0102a"/><rect x="311.1" y="47.1" width="9.6" height="2.3" rx="1" fill="#0b3a78"/><path d="M336.2,128.8 V134.6 M334.2,128.8 H338.2 M334.2,134.6 H338.2" stroke="#d0102a" stroke-width="0.8" fill="none"/><circle cx="336" cy="123.7" r="1.2" fill="#d0102a"/><circle cx="333" cy="127.5" r="1.2" fill="#d0102a"/><circle cx="338.6" cy="129" r="1.2" fill="#d0102a"/><circle cx="339.6" cy="131.6" r="1.2" fill="#d0102a"/><circle cx="334" cy="136.8" r="1.2" fill="#d0102a"/><circle cx="339" cy="139.5" r="1.2" fill="#d0102a"/><path d="M349.3,125.2 V129.2 M347.3,125.2 H351.3 M347.3,129.2 H351.3" stroke="#0b3a78" stroke-width="0.8" fill="none"/><circle cx="345.6" cy="123.8" r="1.2" fill="#0b3a78"/><circle cx="350" cy="125.3" r="1.2" fill="#0b3a78"/><circle cx="352.6" cy="126.2" r="1.2" fill="#0b3a78"/><circle cx="348.5" cy="127.6" r="1.2" fill="#0b3a78"/><circle cx="351" cy="130.3" r="1.2" fill="#0b3a78"/><circle cx="346.8" cy="129" r="1.2" fill="#0b3a78"/><path d="M369.6,53.5 V66.3 M367.1,53.5 H372.1 M367.1,66.3 H372.1" stroke="#d0102a" stroke-width="0.8" fill="none"/><circle cx="370" cy="36.9" r="1.2" fill="#d0102a"/><circle cx="367.3" cy="57.3" r="1.2" fill="#d0102a"/><circle cx="372.5" cy="60.2" r="1.2" fill="#d0102a"/><circle cx="367.1" cy="71.8" r="1.2" fill="#d0102a"/><circle cx="372.4" cy="74.3" r="1.2" fill="#d0102a"/><path d="M382.6,58.4 V78.4 M380.1,58.4 H385.1 M380.1,78.4 H385.1" stroke="#0b3a78" stroke-width="0.8" fill="none"/><circle cx="382.3" cy="33.6" r="1.2" fill="#0b3a78"/><circle cx="380.1" cy="65.9" r="1.2" fill="#0b3a78"/><circle cx="385.2" cy="65.9" r="1.2" fill="#0b3a78"/><circle cx="382.5" cy="82.9" r="1.2" fill="#0b3a78"/><circle cx="382.5" cy="94.6" r="1.2" fill="#0b3a78"/><path d="M408.7,104.7 V122.3 M406.2,104.7 H411.2 M406.2,122.3 H411.2" stroke="#d0102a" stroke-width="0.8" fill="none"/><circle cx="408.5" cy="91.4" r="1.2" fill="#d0102a"/><circle cx="408.5" cy="104" r="1.2" fill="#d0102a"/><circle cx="408.5" cy="109.5" r="1.2" fill="#d0102a"/><circle cx="408.5" cy="130.6" r="1.2" fill="#d0102a"/><circle cx="408.5" cy="135.4" r="1.2" fill="#d0102a"/><path d="M421.6,75 V91.4 M419.1,75 H424.1 M419.1,91.4 H424.1" stroke="#0b3a78" stroke-width="0.8" fill="none"/><circle cx="421.5" cy="59.6" r="1.2" fill="#0b3a78"/><circle cx="421.5" cy="74.5" r="1.2" fill="#0b3a78"/><circle cx="421.5" cy="86.2" r="1.2" fill="#0b3a78"/><circle cx="421.5" cy="94.4" r="1.2" fill="#0b3a78"/><circle cx="421.5" cy="103.7" r="1.2" fill="#0b3a78"/><path d="M441.9,99.1 V116.8 M439.4,99.1 H444.4 M439.4,116.8 H444.4" stroke="#d0102a" stroke-width="0.8" fill="none"/><circle cx="441.8" cy="85.8" r="1.2" fill="#d0102a"/><circle cx="441.8" cy="91.3" r="1.2" fill="#d0102a"/><circle cx="439.4" cy="125.5" r="1.2" fill="#d0102a"/><circle cx="444.5" cy="127.3" r="1.2" fill="#d0102a"/><path d="M454.8,69.7 V89 M452.3,69.7 H457.3 M452.3,89 H457.3" stroke="#0b3a78" stroke-width="0.8" fill="none"/><circle cx="455.6" cy="49.3" r="1.2" fill="#0b3a78"/><circle cx="452.9" cy="73.4" r="1.2" fill="#0b3a78"/><circle cx="457.3" cy="73.4" r="1.2" fill="#0b3a78"/><circle cx="455" cy="92.2" r="1.2" fill="#0b3a78"/><circle cx="455" cy="107.8" r="1.2" fill="#0b3a78"/><path d="M470.2,103 V124 M467.7,103 H472.7 M467.7,124 H472.7" stroke="#d0102a" stroke-width="0.8" fill="none"/><circle cx="470.4" cy="81.3" r="1.2" fill="#d0102a"/><circle cx="470.4" cy="103.7" r="1.2" fill="#d0102a"/><circle cx="470.4" cy="123.9" r="1.2" fill="#d0102a"/><circle cx="467.5" cy="130.4" r="1.2" fill="#d0102a"/><circle cx="473.3" cy="130.4" r="1.2" fill="#d0102a"/><path d="M483.1,53.3 V78.1 M480.6,53.3 H485.6 M480.6,78.1 H485.6" stroke="#0b3a78" stroke-width="0.8" fill="none"/><circle cx="483.5" cy="32" r="1.2" fill="#0b3a78"/><circle cx="483.3" cy="48.8" r="1.2" fill="#0b3a78"/><circle cx="483.3" cy="59.6" r="1.2" fill="#0b3a78"/><circle cx="483.2" cy="90.4" r="1.2" fill="#0b3a78"/><circle cx="483.2" cy="99.4" r="1.2" fill="#0b3a78"/><text x="334.8" y="114.5" font-size="7.0" fill="#333" textLength="18.6" lengthAdjust="spacingAndGlyphs" stroke="#333" stroke-width="0.12">P=NS</text><line x1="331.5" y1="116.8" x2="353.7" y2="116.8" stroke="#9a9a9a" stroke-width="1.1"/><text x="366.9" y="25.8" font-size="7.0" fill="#333" textLength="18.8" lengthAdjust="spacingAndGlyphs" stroke="#333" stroke-width="0.12">P=NS</text><line x1="365.6" y1="28.5" x2="385.8" y2="28.5" stroke="#666" stroke-width="1.1"/><text x="400.0" y="53.6" font-size="7.0" fill="#333" textLength="23.1" lengthAdjust="spacingAndGlyphs" stroke="#333" stroke-width="0.12">P&lt;0.05</text><line x1="400" y1="56.1" x2="422.8" y2="56.1" stroke="#aaa" stroke-width="1.1"/><text x="437.4" y="42.5" font-size="7.0" fill="#333" textLength="23.2" lengthAdjust="spacingAndGlyphs" stroke="#333" stroke-width="0.12">P&lt;0.05</text><line x1="437.4" y1="43.9" x2="460.6" y2="43.9" stroke="#666" stroke-width="1.1"/><text x="465.3" y="25.0" font-size="7.0" fill="#333" textLength="23.2" lengthAdjust="spacingAndGlyphs" stroke="#333" stroke-width="0.12">P&lt;0.05</text><line x1="465.3" y1="26.7" x2="488.5" y2="26.7" stroke="#888" stroke-width="1.1"/><text x="300.8" y="159.6" font-size="6.4" fill="#333" textLength="23.8" lengthAdjust="spacingAndGlyphs" stroke="#333" stroke-width="0.12">Baseline</text><text x="334.9" y="159.6" font-size="6.4" fill="#333" textLength="24.6" lengthAdjust="spacingAndGlyphs" stroke="#333" stroke-width="0.12">Ischemia</text><text x="372.1" y="159.6" font-size="6.4" fill="#333" textLength="16.2" lengthAdjust="spacingAndGlyphs" stroke="#333" stroke-width="0.12">5 min</text><text x="403" y="159.6" font-size="6.4" fill="#333" textLength="20.3" lengthAdjust="spacingAndGlyphs" stroke="#333" stroke-width="0.12">30 min</text><text x="434.9" y="159.6" font-size="6.4" fill="#333" textLength="19.3" lengthAdjust="spacingAndGlyphs" stroke="#333" stroke-width="0.12">60 min</text><text x="467.2" y="159.6" font-size="6.4" fill="#333" textLength="22.8" lengthAdjust="spacingAndGlyphs" stroke="#333" stroke-width="0.12">120 min</text><line x1="369.4" y1="164.2" x2="493.3" y2="164.2" stroke="#555" stroke-width="0.8"/><text x="415.7" y="172" font-size="6.4" fill="#333" textLength="34" lengthAdjust="spacingAndGlyphs" stroke="#333" stroke-width="0.12">Reperfusion</text><text transform="translate(271.2,154.5) rotate(-90)" x="0" y="0" font-size="7.5" fill="#333" stroke="#333" stroke-width="0.12" textLength="131.3" lengthAdjust="spacingAndGlyphs">Cerebral blood flow (flux, % of baseline)</text><circle cx="286.2" cy="8.5" r="1.3" fill="#d0102a"/><text x="290.6" y="10.8" font-size="7.1" fill="#333" font-style="italic" textLength="49.9" lengthAdjust="spacingAndGlyphs" stroke="#333" stroke-width="0.12">PKM2<tspan font-size="4.54" dy="-2.63">fl/fl</tspan><tspan dy="2.63">Apoe</tspan><tspan font-size="4.54" dy="-2.63">-/-</tspan></text><circle cx="286.2" cy="16.3" r="1.3" fill="#0b3a78"/><text x="290.6" y="18.7" font-size="7.1" fill="#333" font-style="italic" textLength="86.4" lengthAdjust="spacingAndGlyphs" stroke="#333" stroke-width="0.12">PKM2<tspan font-size="4.54" dy="-2.63">fl/fl</tspan><tspan dy="2.63">LysMCre</tspan><tspan font-size="4.54" dy="-2.63">+/-</tspan><tspan dy="2.63">Apoe</tspan><tspan font-size="4.54" dy="-2.63">-/-</tspan></text><text x="8.5" y="194.2" font-size="11.2" fill="#111" font-weight="bold">B</text><text x="33.2" y="240" font-size="6.6" fill="#404040" text-anchor="end" font-style="italic" textLength="21.8" lengthAdjust="spacingAndGlyphs" stroke="#404040" stroke-width="0.12">PKM2<tspan font-size="4.22" dy="-2.44">fl/fl</tspan></text><text x="33.2" y="245.6" font-size="6.6" fill="#404040" text-anchor="end" font-style="italic" textLength="20.4" lengthAdjust="spacingAndGlyphs" stroke="#404040" stroke-width="0.12">Apoe<tspan font-size="4.22" dy="-2.44">-/-</tspan></text><text x="19.5" y="282.6" font-size="6.6" fill="#404040" text-anchor="middle" font-style="italic" textLength="22.2" lengthAdjust="spacingAndGlyphs" stroke="#404040" stroke-width="0.12">PKM2<tspan font-size="4.22" dy="-2.44">fl/fl</tspan></text><text x="19.1" y="288.5" font-size="6.6" fill="#404040" text-anchor="middle" font-style="italic" textLength="30.2" lengthAdjust="spacingAndGlyphs" stroke="#404040" stroke-width="0.12">LysMCre<tspan font-size="4.22" dy="-2.44">+/-</tspan></text><text x="18.7" y="294" font-size="6.6" fill="#404040" text-anchor="middle" font-style="italic" textLength="18.4" lengthAdjust="spacingAndGlyphs" stroke="#404040" stroke-width="0.12">Apoe<tspan font-size="4.22" dy="-2.44">-/-</tspan></text><rect x="36" y="217.3" width="43.2" height="42.6" fill="#000"/><rect x="71.7" y="257.1" width="5.6" height="1" fill="#ddd"/><rect x="82.8" y="217.3" width="43.2" height="42.6" fill="#000"/><rect x="118.5" y="257.1" width="5.6" height="1" fill="#ddd"/><rect x="129.6" y="217.3" width="43.2" height="42.6" fill="#000"/><g filter="url(#soft)"><circle cx="150.3" cy="226.8" r="0.62" fill="#050be7"/><circle cx="151.4" cy="227.6" r="0.30" fill="#1225c2"/><circle cx="148.2" cy="223.8" r="0.60" fill="#01029f"/><circle cx="148.5" cy="259.2" r="0.61" fill="#1327cc"/><circle cx="148.7" cy="257.6" r="0.52" fill="#0b1781"/><circle cx="164.2" cy="218.6" r="0.36" fill="#0c19bb"/><circle cx="150.6" cy="225.6" r="0.31" fill="#0204a0"/><circle cx="163.0" cy="226.5" r="0.69" fill="#0204f8"/><circle cx="135.3" cy="237.6" r="0.38" fill="#112289"/><circle cx="146.4" cy="259.2" r="0.45" fill="#02056a"/><circle cx="136.8" cy="247.6" r="0.30" fill="#112375"/><circle cx="155.4" cy="239.5" r="0.53" fill="#1123b5"/><circle cx="171.5" cy="222.5" r="0.57" fill="#0a15bd"/><circle cx="134.5" cy="220.5" r="0.61" fill="#050ac3"/><circle cx="158.9" cy="245.9" r="0.66" fill="#0d1aa1"/><circle cx="168.8" cy="224.6" r="0.60" fill="#0b1667"/><circle cx="150.8" cy="233.4" r="0.40" fill="#050aa2"/><circle cx="153.8" cy="236.1" r="0.46" fill="#0103df"/><circle cx="165.4" cy="220.0" r="0.40" fill="#0102ae"/><circle cx="147.8" cy="224.9" r="0.33" fill="#0409ba"/><circle cx="171.6" cy="248.8" r="0.49" fill="#0408a4"/><circle cx="170.6" cy="239.7" r="0.59" fill="#060d6b"/><circle cx="168.1" cy="233.0" r="0.36" fill="#1326c2"/><circle cx="162.7" cy="238.0" r="0.66" fill="#0913de"/><circle cx="160.5" cy="233.7" r="0.35" fill="#08106a"/><circle cx="155.2" cy="244.6" r="0.64" fill="#0d1af9"/><circle cx="141.0" cy="234.7" r="0.66" fill="#040986"/><circle cx="149.0" cy="223.7" r="0.65" fill="#0408ac"/><circle cx="142.9" cy="257.0" r="0.46" fill="#13279c"/><circle cx="160.1" cy="240.7" r="0.32" fill="#0103e5"/><circle cx="163.5" cy="218.1" r="0.49" fill="#0c1974"/><circle cx="162.3" cy="225.1" r="0.58" fill="#1326a4"/><circle cx="143.2" cy="255.3" r="0.42" fill="#1123e4"/><circle cx="150.8" cy="241.6" r="0.52" fill="#102073"/><circle cx="155.2" cy="231.3" r="0.51" fill="#1327ae"/><circle cx="152.3" cy="241.1" r="0.33" fill="#060cb7"/><circle cx="145.1" cy="231.0" r="0.34" fill="#020477"/><circle cx="156.5" cy="251.4" r="0.69" fill="#1327e5"/><circle cx="170.1" cy="246.1" r="0.58" fill="#1021dc"/><circle cx="151.7" cy="254.2" r="0.33" fill="#01036a"/><circle cx="158.0" cy="219.5" r="0.41" fill="#0c19fa"/><circle cx="160.6" cy="236.8" r="0.39" fill="#0a14c6"/><circle cx="150.6" cy="244.1" r="0.69" fill="#010279"/><circle cx="150.3" cy="238.3" r="0.59" fill="#0e1c9b"/><circle cx="156.6" cy="249.4" r="0.57" fill="#0810ff"/><circle cx="140.5" cy="255.9" r="0.45" fill="#1021c5"/><circle cx="170.8" cy="259.0" r="0.30" fill="#060cb4"/><circle cx="153.4" cy="221.1" r="0.42" fill="#0e1dc4"/><circle cx="171.6" cy="259.0" r="0.37" fill="#060dd2"/><circle cx="158.7" cy="233.3" r="0.53" fill="#081094"/><circle cx="170.0" cy="258.0" r="0.66" fill="#060ce5"/><circle cx="149.5" cy="245.5" r="0.57" fill="#1327c6"/><circle cx="141.6" cy="225.6" r="0.31" fill="#0001c2"/><circle cx="148.7" cy="236.5" r="0.70" fill="#0409ef"/><circle cx="167.8" cy="233.2" r="0.35" fill="#1021d2"/><circle cx="165.6" cy="230.6" r="0.47" fill="#070ff1"/><circle cx="139.6" cy="251.2" r="0.64" fill="#0001db"/><circle cx="157.9" cy="220.8" r="0.47" fill="#040994"/><circle cx="132.6" cy="251.7" r="0.54" fill="#0f1ee1"/><circle cx="158.8" cy="245.9" r="0.36" fill="#0b168b"/><circle cx="164.2" cy="245.6" r="0.37" fill="#060c7d"/><circle cx="154.8" cy="229.3" r="0.62" fill="#050aca"/><circle cx="170.4" cy="235.4" r="0.43" fill="#060d9c"/><circle cx="151.3" cy="248.1" r="0.54" fill="#000190"/><circle cx="160.0" cy="238.3" r="0.36" fill="#0001d5"/><circle cx="168.3" cy="246.1" r="0.39" fill="#1326ec"/><circle cx="168.4" cy="258.2" r="0.46" fill="#0b17da"/><circle cx="155.7" cy="249.2" r="0.56" fill="#050b8d"/><circle cx="169.4" cy="240.1" r="0.65" fill="#070e98"/><circle cx="172.2" cy="240.9" r="0.61" fill="#0205c0"/><circle cx="158.5" cy="253.8" r="0.53" fill="#0d1b6a"/><circle cx="170.4" cy="249.2" r="0.69" fill="#030699"/><circle cx="171.9" cy="230.1" r="0.36" fill="#1327d0"/><circle cx="157.1" cy="249.9" r="0.60" fill="#08109a"/><circle cx="137.9" cy="252.2" r="0.39" fill="#0810de"/><circle cx="131.8" cy="253.5" r="0.38" fill="#1225ba"/><circle cx="148.7" cy="230.4" r="0.36" fill="#050a9c"/><circle cx="158.1" cy="242.0" r="0.53" fill="#060cd9"/><circle cx="150.6" cy="254.0" r="0.52" fill="#0103df"/><circle cx="131.2" cy="255.9" r="0.35" fill="#0e1db9"/><circle cx="160.4" cy="220.7" r="0.40" fill="#0b177e"/><circle cx="157.8" cy="248.3" r="0.48" fill="#060c83"/><circle cx="155.2" cy="231.7" r="0.64" fill="#070fb2"/><circle cx="156.8" cy="223.9" r="0.63" fill="#0306a7"/><circle cx="158.9" cy="230.1" r="0.39" fill="#040898"/><circle cx="151.1" cy="247.5" r="0.39" fill="#1021b9"/><circle cx="135.3" cy="254.4" r="0.56" fill="#070e69"/><circle cx="155.2" cy="236.3" r="0.50" fill="#0b17f0"/><circle cx="148.4" cy="218.7" r="0.68" fill="#0b1688"/><circle cx="160.4" cy="242.2" r="0.48" fill="#00019f"/><circle cx="166.1" cy="255.1" r="0.64" fill="#1225fa"/><circle cx="161.7" cy="232.1" r="0.36" fill="#081167"/><circle cx="156.4" cy="253.0" r="0.39" fill="#050a80"/><circle cx="152.7" cy="222.6" r="0.46" fill="#060d83"/><circle cx="159.7" cy="226.5" r="0.31" fill="#070ea2"/><circle cx="155.4" cy="221.8" r="0.38" fill="#1021f7"/><circle cx="159.6" cy="251.6" r="0.46" fill="#0b16b5"/><circle cx="167.4" cy="235.2" r="0.53" fill="#0c196f"/><circle cx="162.6" cy="241.9" r="0.37" fill="#081078"/><circle cx="162.9" cy="247.7" r="0.51" fill="#09128d"/><circle cx="146.5" cy="251.1" r="0.32" fill="#1225ad"/><circle cx="133.9" cy="231.3" r="0.60" fill="#09138a"/><circle cx="148.8" cy="227.4" r="0.45" fill="#1020d0"/><circle cx="159.3" cy="243.9" r="0.49" fill="#0b17f2"/><circle cx="160.7" cy="219.7" r="0.55" fill="#0a15ff"/><circle cx="148.5" cy="249.8" r="0.31" fill="#060ce4"/><circle cx="170.8" cy="218.3" r="0.61" fill="#070fd7"/><circle cx="161.2" cy="239.8" r="0.45" fill="#1326ab"/><circle cx="168.0" cy="225.4" r="0.45" fill="#0a1588"/><circle cx="145.6" cy="255.4" r="0.56" fill="#0205ad"/><circle cx="167.2" cy="228.0" r="0.70" fill="#1123b7"/><circle cx="146.1" cy="258.4" r="0.37" fill="#0001c9"/><circle cx="156.5" cy="229.2" r="0.41" fill="#03079f"/><circle cx="166.9" cy="255.0" r="0.63" fill="#0f1f94"/><circle cx="157.6" cy="245.5" r="0.38" fill="#0d1b8e"/><circle cx="146.2" cy="256.4" r="0.61" fill="#0c18e8"/><circle cx="132.1" cy="247.5" r="0.37" fill="#0f1e80"/><circle cx="151.6" cy="230.1" r="0.48" fill="#0d1aae"/><circle cx="162.5" cy="257.4" r="0.52" fill="#0b16ab"/><circle cx="130.3" cy="234.8" r="0.65" fill="#1428da"/><circle cx="168.4" cy="254.5" r="0.41" fill="#0408bd"/><circle cx="152.5" cy="244.9" r="0.55" fill="#142898"/><circle cx="136.9" cy="221.6" r="0.36" fill="#0102bb"/><circle cx="131.2" cy="251.2" r="0.37" fill="#1123f6"/><circle cx="160.4" cy="243.1" r="0.38" fill="#091390"/><circle cx="146.3" cy="250.9" r="0.42" fill="#070f6e"/><circle cx="142.7" cy="227.3" r="0.61" fill="#020594"/><circle cx="156.2" cy="255.2" r="0.49" fill="#050b92"/><circle cx="160.5" cy="236.0" r="0.32" fill="#0f1fc5"/><circle cx="168.5" cy="224.7" r="0.52" fill="#132782"/><circle cx="164.0" cy="247.9" r="0.31" fill="#1021b3"/><circle cx="132.7" cy="257.4" r="0.69" fill="#0205d4"/><circle cx="154.3" cy="232.9" r="0.54" fill="#0e1cc9"/><circle cx="150.7" cy="228.8" r="0.53" fill="#09139d"/><circle cx="133.0" cy="255.7" r="0.36" fill="#0a14cd"/><circle cx="153.7" cy="249.8" r="0.46" fill="#0b1781"/><circle cx="152.6" cy="219.9" r="0.33" fill="#070f97"/><circle cx="149.5" cy="237.5" r="0.51" fill="#1123a1"/><circle cx="150.1" cy="249.9" r="0.57" fill="#0a14b4"/><circle cx="156.1" cy="248.8" r="0.51" fill="#14289e"/><circle cx="168.0" cy="254.0" r="0.38" fill="#112291"/><circle cx="152.4" cy="255.5" r="0.34" fill="#081093"/><circle cx="165.2" cy="237.8" r="0.54" fill="#070fa9"/><circle cx="151.3" cy="221.4" r="0.54" fill="#091281"/><circle cx="153.9" cy="220.4" r="0.70" fill="#00008f"/><circle cx="151.6" cy="240.9" r="0.69" fill="#1428a0"/><circle cx="148.3" cy="235.3" r="0.57" fill="#0810c9"/><circle cx="156.2" cy="225.3" r="0.38" fill="#0c18ae"/><circle cx="147.7" cy="254.9" r="0.56" fill="#1428a6"/><circle cx="158.2" cy="234.3" r="0.41" fill="#01039f"/><circle cx="158.4" cy="228.3" r="0.68" fill="#0d1beb"/><circle cx="151.8" cy="228.8" r="0.36" fill="#050b9f"/><circle cx="134.5" cy="245.1" r="0.37" fill="#050bf8"/><circle cx="143.4" cy="239.7" r="0.54" fill="#01036c"/><circle cx="165.9" cy="237.8" r="0.64" fill="#050bfd"/><circle cx="137.2" cy="234.3" r="0.49" fill="#050a6e"/><circle cx="136.3" cy="256.8" r="0.45" fill="#050ad6"/><circle cx="147.1" cy="257.9" r="0.44" fill="#102098"/><circle cx="165.1" cy="221.9" r="0.69" fill="#03076e"/><circle cx="170.9" cy="251.1" r="0.43" fill="#0f1eca"/><circle cx="141.6" cy="251.6" r="0.67" fill="#102171"/><circle cx="154.4" cy="223.9" r="0.51" fill="#0a147a"/><circle cx="165.7" cy="236.8" r="0.46" fill="#0f1ed7"/><circle cx="162.2" cy="254.6" r="0.62" fill="#070fcd"/><circle cx="157.3" cy="220.1" r="0.62" fill="#0810f7"/><circle cx="153.7" cy="227.5" r="0.68" fill="#0c18d3"/><circle cx="167.8" cy="254.8" r="0.65" fill="#0a1494"/><circle cx="145.4" cy="250.6" r="0.60" fill="#0e1cac"/><circle cx="131.2" cy="244.0" r="0.33" fill="#0f1f82"/><circle cx="170.1" cy="237.3" r="0.62" fill="#0a15d0"/><circle cx="165.9" cy="225.2" r="0.60" fill="#060c77"/><circle cx="170.0" cy="234.4" r="0.34" fill="#0409e8"/><circle cx="133.8" cy="243.5" r="0.59" fill="#060ce2"/><circle cx="147.7" cy="227.2" r="0.41" fill="#000198"/><circle cx="155.4" cy="242.7" r="0.59" fill="#0307f5"/><circle cx="169.2" cy="229.5" r="0.34" fill="#0811f9"/><circle cx="167.1" cy="249.5" r="0.31" fill="#0f1fa2"/><circle cx="163.7" cy="235.4" r="0.32" fill="#0811de"/><circle cx="171.0" cy="240.8" r="0.54" fill="#0e1db4"/><circle cx="160.1" cy="255.7" r="0.53" fill="#1428a9"/><circle cx="159.1" cy="228.7" r="0.43" fill="#010293"/><circle cx="131.6" cy="228.8" r="0.46" fill="#070ee9"/><circle cx="163.5" cy="258.5" r="0.40" fill="#10217a"/><circle cx="144.7" cy="237.5" r="0.40" fill="#1428e0"/><circle cx="161.3" cy="232.0" r="0.51" fill="#060dba"/><circle cx="130.1" cy="251.0" r="0.58" fill="#1225c9"/><circle cx="141.0" cy="256.0" r="0.36" fill="#0102a6"/><circle cx="136.0" cy="255.7" r="0.53" fill="#1428de"/><circle cx="156.9" cy="226.2" r="0.68" fill="#0a14df"/><circle cx="145.3" cy="233.2" r="0.54" fill="#1123bb"/><circle cx="131.5" cy="250.4" r="0.40" fill="#1428a6"/><circle cx="153.0" cy="252.7" r="0.39" fill="#0a14fd"/><circle cx="150.9" cy="235.4" r="0.64" fill="#10218b"/><circle cx="148.5" cy="246.3" r="0.39" fill="#1021eb"/><circle cx="153.1" cy="232.0" r="0.35" fill="#1020f2"/><circle cx="148.1" cy="228.8" r="0.67" fill="#0001ac"/><circle cx="141.2" cy="230.5" r="0.37" fill="#0a15b8"/><circle cx="149.6" cy="244.1" r="0.48" fill="#0b16d3"/><circle cx="159.4" cy="237.9" r="0.62" fill="#050be7"/><circle cx="171.2" cy="251.6" r="0.59" fill="#1327e1"/><circle cx="142.4" cy="255.5" r="0.65" fill="#0a14c6"/><circle cx="164.6" cy="239.5" r="0.62" fill="#0913c3"/><circle cx="158.7" cy="250.9" r="0.54" fill="#050b69"/><circle cx="157.8" cy="217.8" r="0.42" fill="#050a81"/><circle cx="159.0" cy="247.9" r="0.31" fill="#0d1ba0"/><circle cx="156.3" cy="221.0" r="0.31" fill="#0f1f78"/><circle cx="148.3" cy="242.4" r="0.36" fill="#010364"/><circle cx="154.0" cy="244.6" r="0.44" fill="#091396"/><circle cx="162.9" cy="256.0" r="0.60" fill="#0306e7"/><circle cx="132.9" cy="242.4" r="0.52" fill="#0913cf"/><circle cx="169.8" cy="219.5" r="0.39" fill="#040871"/><circle cx="165.8" cy="229.9" r="0.59" fill="#0b16ed"/><circle cx="146.3" cy="244.0" r="0.54" fill="#09136d"/><circle cx="134.1" cy="254.8" r="0.30" fill="#0a158b"/><circle cx="153.4" cy="235.8" r="0.65" fill="#091388"/><circle cx="135.6" cy="255.9" r="0.54" fill="#1020d6"/><circle cx="136.2" cy="258.4" r="0.44" fill="#0205d3"/><circle cx="166.1" cy="220.8" r="0.45" fill="#1020fc"/><circle cx="150.3" cy="231.3" r="0.49" fill="#091374"/><circle cx="137.7" cy="254.5" r="0.36" fill="#0d1aff"/><circle cx="131.1" cy="254.0" r="0.62" fill="#060ca8"/><circle cx="136.8" cy="244.0" r="0.64" fill="#0e1c7a"/><circle cx="149.1" cy="247.8" r="0.35" fill="#0913f4"/><circle cx="156.3" cy="229.0" r="0.38" fill="#02047d"/><circle cx="169.9" cy="255.7" r="0.60" fill="#0a15f1"/><circle cx="152.4" cy="243.3" r="0.67" fill="#060d83"/><circle cx="142.8" cy="257.3" r="0.62" fill="#0b1664"/><circle cx="160.7" cy="243.9" r="0.64" fill="#0408d8"/><circle cx="148.5" cy="259.1" r="0.67" fill="#1021e7"/><circle cx="166.8" cy="251.3" r="0.38" fill="#081186"/><circle cx="138.7" cy="255.4" r="0.63" fill="#040987"/><circle cx="170.8" cy="233.3" r="0.59" fill="#0c18f4"/><circle cx="166.3" cy="238.2" r="0.31" fill="#0307f2"/><circle cx="166.0" cy="234.9" r="0.63" fill="#0306d6"/><circle cx="151.2" cy="257.7" r="0.54" fill="#050be1"/><circle cx="156.8" cy="239.8" r="0.67" fill="#050b66"/><circle cx="153.0" cy="258.6" r="0.36" fill="#1122a2"/><circle cx="130.1" cy="218.9" r="0.67" fill="#0e1dce"/><circle cx="171.3" cy="231.3" r="0.67" fill="#0e1dd8"/><circle cx="159.8" cy="234.5" r="0.33" fill="#0001a0"/><circle cx="130.5" cy="251.5" r="0.33" fill="#0e1de0"/><circle cx="157.7" cy="257.2" r="0.67" fill="#0d1aca"/><circle cx="147.2" cy="235.7" r="0.36" fill="#12247f"/><circle cx="138.5" cy="256.7" r="0.64" fill="#0f1fa3"/><circle cx="160.2" cy="235.3" r="0.60" fill="#0001c8"/><circle cx="169.8" cy="228.0" r="0.50" fill="#0408d0"/><circle cx="171.8" cy="218.2" r="0.36" fill="#03077e"/><circle cx="171.1" cy="258.0" r="0.48" fill="#132678"/><circle cx="151.1" cy="257.9" r="0.30" fill="#03078f"/><circle cx="139.6" cy="249.0" r="0.59" fill="#0913b0"/><circle cx="157.9" cy="239.7" r="0.39" fill="#000075"/><circle cx="154.6" cy="236.0" r="0.50" fill="#0f1eff"/><circle cx="149.5" cy="226.8" r="0.64" fill="#1224ff"/><circle cx="155.0" cy="256.3" r="0.66" fill="#0811ba"/><circle cx="155.6" cy="232.1" r="0.63" fill="#0f1ff1"/><circle cx="166.7" cy="254.9" r="0.60" fill="#122597"/><circle cx="136.7" cy="230.3" r="0.35" fill="#0c18f3"/><circle cx="162.6" cy="227.7" r="0.42" fill="#0b17d9"/><circle cx="156.2" cy="256.3" r="0.31" fill="#050b7a"/><circle cx="164.8" cy="218.7" r="0.66" fill="#020593"/><circle cx="171.3" cy="237.4" r="0.54" fill="#0d1af6"/><circle cx="152.5" cy="221.5" r="0.69" fill="#070ec9"/><circle cx="165.2" cy="219.8" r="0.37" fill="#060c6a"/><circle cx="149.4" cy="259.2" r="0.33" fill="#0811a4"/><circle cx="159.6" cy="253.5" r="0.33" fill="#050adb"/><circle cx="153.6" cy="229.7" r="0.37" fill="#0103c3"/><circle cx="161.5" cy="237.4" r="0.32" fill="#0102d7"/><circle cx="135.9" cy="258.8" r="0.41" fill="#0f1f72"/><circle cx="169.6" cy="222.1" r="0.49" fill="#060c8c"/><circle cx="165.4" cy="243.6" r="0.57" fill="#0a1495"/><circle cx="152.7" cy="259.2" r="0.63" fill="#0001a8"/><circle cx="166.6" cy="220.4" r="0.65" fill="#0d1b71"/><circle cx="142.4" cy="240.7" r="0.47" fill="#00008b"/><circle cx="148.9" cy="248.0" r="0.49" fill="#0b1693"/><circle cx="151.4" cy="237.2" r="0.66" fill="#040983"/><circle cx="158.6" cy="257.4" r="0.55" fill="#0307ce"/><circle cx="170.9" cy="252.0" r="0.39" fill="#13277a"/><circle cx="166.4" cy="247.1" r="0.61" fill="#0205c5"/><circle cx="169.8" cy="221.2" r="0.35" fill="#050abc"/><circle cx="171.2" cy="257.7" r="0.43" fill="#0306f8"/><circle cx="168.6" cy="244.3" r="0.63" fill="#132671"/><circle cx="136.5" cy="255.1" r="0.61" fill="#1326c3"/><circle cx="155.6" cy="246.0" r="0.35" fill="#0e1cd0"/><circle cx="166.7" cy="248.8" r="0.40" fill="#081196"/><circle cx="154.2" cy="248.6" r="0.60" fill="#050a80"/><circle cx="137.7" cy="235.0" r="0.48" fill="#0b1791"/><circle cx="158.6" cy="250.8" r="0.48" fill="#0b17c5"/><circle cx="135.7" cy="234.7" r="0.44" fill="#0b167c"/><circle cx="145.2" cy="256.6" r="0.62" fill="#0d1bf8"/><circle cx="155.3" cy="232.0" r="0.39" fill="#060cfc"/><circle cx="133.1" cy="227.6" r="0.66" fill="#060c9c"/><circle cx="155.1" cy="243.9" r="0.33" fill="#0e1c98"/><circle cx="146.5" cy="254.2" r="0.46" fill="#11239e"/><circle cx="156.6" cy="248.7" r="0.56" fill="#0810cd"/><circle cx="166.8" cy="249.3" r="0.36" fill="#0307d5"/><circle cx="168.5" cy="222.5" r="0.68" fill="#0a14e9"/><circle cx="137.5" cy="249.5" r="0.46" fill="#142876"/><circle cx="167.9" cy="219.1" r="0.53" fill="#0810f1"/><circle cx="160.1" cy="224.4" r="0.48" fill="#0811f7"/><circle cx="135.3" cy="253.8" r="0.59" fill="#0d1b96"/><circle cx="159.4" cy="253.7" r="0.53" fill="#0000ed"/><circle cx="140.2" cy="249.2" r="0.55" fill="#0810af"/><circle cx="164.0" cy="237.5" r="0.32" fill="#01038e"/><circle cx="167.1" cy="249.9" r="0.61" fill="#0001ee"/><circle cx="148.4" cy="232.1" r="0.41" fill="#1021b5"/><circle cx="153.3" cy="223.3" r="0.70" fill="#1021d9"/><circle cx="149.0" cy="247.1" r="0.59" fill="#1225ca"/><circle cx="151.2" cy="219.7" r="0.37" fill="#070fab"/><circle cx="172.1" cy="247.0" r="0.36" fill="#0205b3"/><circle cx="152.8" cy="244.2" r="0.64" fill="#1021de"/><circle cx="159.9" cy="224.8" r="0.63" fill="#060cf6"/><circle cx="143.3" cy="221.9" r="0.43" fill="#0a1573"/><circle cx="170.7" cy="230.7" r="0.49" fill="#0811c4"/><circle cx="150.3" cy="252.3" r="0.52" fill="#060c88"/><circle cx="163.0" cy="243.6" r="0.65" fill="#0e1d76"/><circle cx="170.5" cy="256.6" r="0.51" fill="#10209c"/><circle cx="161.3" cy="244.1" r="0.46" fill="#070f84"/><circle cx="153.0" cy="248.7" r="0.53" fill="#0b1792"/><circle cx="152.0" cy="232.8" r="0.50" fill="#050ba3"/><circle cx="162.2" cy="253.2" r="0.41" fill="#0c19ad"/><circle cx="158.0" cy="258.7" r="0.58" fill="#1327b6"/><circle cx="136.1" cy="254.7" r="0.48" fill="#070ecd"/><circle cx="146.6" cy="252.3" r="0.46" fill="#0c1980"/><circle cx="158.8" cy="226.1" r="0.50" fill="#1428d8"/><circle cx="168.2" cy="222.0" r="0.30" fill="#1225f9"/><circle cx="152.3" cy="244.8" r="0.33" fill="#0b16c2"/><circle cx="160.2" cy="242.4" r="0.43" fill="#010266"/><circle cx="150.3" cy="226.3" r="0.50" fill="#112270"/><circle cx="171.7" cy="219.7" r="0.63" fill="#070ffc"/><circle cx="139.7" cy="253.1" r="0.62" fill="#0102a9"/><circle cx="138.1" cy="237.7" r="0.57" fill="#0b17aa"/><circle cx="167.7" cy="222.8" r="0.51" fill="#0811c0"/><circle cx="159.5" cy="252.4" r="0.51" fill="#0d1bac"/><circle cx="147.5" cy="257.9" r="0.59" fill="#0a1576"/><circle cx="141.3" cy="257.5" r="0.57" fill="#1225d3"/><circle cx="160.0" cy="257.5" r="0.69" fill="#0d1bf2"/><circle cx="145.8" cy="249.9" r="0.63" fill="#0306ec"/><circle cx="154.2" cy="246.1" r="0.69" fill="#0f1ecd"/><circle cx="157.4" cy="222.6" r="0.56" fill="#0811a0"/><circle cx="145.7" cy="254.6" r="0.70" fill="#1123a7"/><circle cx="149.8" cy="224.4" r="0.53" fill="#0307ca"/><circle cx="154.8" cy="240.1" r="0.40" fill="#00017b"/><circle cx="159.3" cy="225.8" r="0.32" fill="#0e1d69"/><circle cx="153.8" cy="244.0" r="0.53" fill="#050a76"/><circle cx="158.8" cy="228.7" r="0.33" fill="#0306cc"/><circle cx="161.5" cy="256.2" r="0.70" fill="#081084"/><circle cx="150.5" cy="251.7" r="0.40" fill="#08109e"/><circle cx="131.6" cy="227.2" r="0.67" fill="#1225e1"/><circle cx="153.1" cy="218.5" r="0.55" fill="#0c18ad"/><circle cx="140.1" cy="233.1" r="0.33" fill="#1123fd"/><circle cx="155.1" cy="235.5" r="0.36" fill="#0c19e9"/><circle cx="152.0" cy="235.8" r="0.69" fill="#12258f"/><circle cx="168.5" cy="241.0" r="0.34" fill="#0811f4"/><circle cx="162.7" cy="255.6" r="0.33" fill="#050bf7"/><circle cx="158.2" cy="243.8" r="0.33" fill="#0102a3"/><circle cx="169.7" cy="249.3" r="0.59" fill="#0e1de7"/><circle cx="152.7" cy="240.8" r="0.45" fill="#0b17da"/><circle cx="139.9" cy="251.7" r="0.35" fill="#0b1781"/><circle cx="162.6" cy="254.5" r="0.46" fill="#0d1ada"/><circle cx="165.0" cy="249.9" r="0.50" fill="#070eb2"/><circle cx="169.1" cy="225.1" r="0.46" fill="#060c97"/><circle cx="134.0" cy="251.7" r="0.64" fill="#1327d4"/><circle cx="153.0" cy="240.9" r="0.31" fill="#0000bf"/><circle cx="139.2" cy="245.2" r="0.55" fill="#0205b5"/><circle cx="158.6" cy="257.3" r="0.49" fill="#070fe9"/><circle cx="150.5" cy="245.2" r="0.46" fill="#0e1ded"/><circle cx="171.7" cy="234.7" r="0.52" fill="#0e1d8a"/><circle cx="131.5" cy="254.7" r="0.44" fill="#02059c"/><circle cx="141.4" cy="250.2" r="0.58" fill="#0a15e0"/><circle cx="153.9" cy="256.8" r="0.34" fill="#0306bf"/><circle cx="158.1" cy="242.5" r="0.59" fill="#0a15d3"/><circle cx="168.6" cy="249.7" r="0.50" fill="#1020f6"/><circle cx="151.5" cy="220.0" r="0.50" fill="#1122fa"/><circle cx="134.5" cy="251.6" r="0.39" fill="#0f1eba"/><circle cx="152.9" cy="243.2" r="0.55" fill="#1224b1"/><circle cx="150.9" cy="225.3" r="0.62" fill="#0102b5"/></g><rect x="165.3" y="257.1" width="5.6" height="1" fill="#ddd"/><rect x="36" y="266.3" width="43.2" height="42.6" fill="#000"/><rect x="71.7" y="306.1" width="5.6" height="1" fill="#ddd"/><rect x="82.8" y="266.3" width="43.2" height="42.6" fill="#000"/><rect x="118.5" y="306.1" width="5.6" height="1" fill="#ddd"/><rect x="129.6" y="266.3" width="43.2" height="42.6" fill="#000"/><g filter="url(#soft)"><circle cx="148.3" cy="303.0" r="0.33" fill="#0b16ec"/><circle cx="138.7" cy="271.0" r="0.61" fill="#060cf2"/><circle cx="158.2" cy="267.9" r="0.45" fill="#0103d7"/><circle cx="167.6" cy="296.4" r="0.36" fill="#112394"/><circle cx="145.7" cy="294.3" r="0.64" fill="#0811b5"/><circle cx="134.4" cy="275.1" r="0.65" fill="#060d88"/><circle cx="156.5" cy="291.1" r="0.62" fill="#040889"/><circle cx="166.8" cy="269.9" r="0.62" fill="#0f1ef5"/><circle cx="133.6" cy="286.2" r="0.69" fill="#0b16b1"/><circle cx="133.5" cy="304.2" r="0.63" fill="#0811e5"/><circle cx="141.0" cy="287.6" r="0.67" fill="#0a15bd"/><circle cx="140.6" cy="304.9" r="0.58" fill="#04097c"/><circle cx="142.9" cy="266.8" r="0.60" fill="#0c1871"/><circle cx="139.3" cy="305.7" r="0.63" fill="#132782"/><circle cx="149.2" cy="284.5" r="0.62" fill="#030689"/><circle cx="151.0" cy="288.5" r="0.56" fill="#0b1782"/><circle cx="134.0" cy="298.8" r="0.39" fill="#1020f5"/><circle cx="160.4" cy="268.0" r="0.47" fill="#050afe"/><circle cx="169.5" cy="301.8" r="0.48" fill="#0912ed"/><circle cx="144.5" cy="284.3" r="0.43" fill="#0307be"/><circle cx="152.9" cy="288.1" r="0.54" fill="#0b1788"/><circle cx="138.5" cy="302.5" r="0.63" fill="#020479"/><circle cx="151.1" cy="280.6" r="0.66" fill="#060db2"/><circle cx="159.1" cy="282.8" r="0.37" fill="#0c18ce"/><circle cx="166.9" cy="301.6" r="0.58" fill="#0103c6"/><circle cx="165.3" cy="287.9" r="0.44" fill="#010386"/><circle cx="162.8" cy="304.0" r="0.58" fill="#1123d4"/><circle cx="152.5" cy="272.5" r="0.54" fill="#0b17cc"/><circle cx="159.7" cy="298.5" r="0.68" fill="#1122ea"/><circle cx="157.5" cy="290.6" r="0.32" fill="#000187"/><circle cx="130.5" cy="307.0" r="0.50" fill="#142870"/><circle cx="162.2" cy="282.0" r="0.54" fill="#02046e"/><circle cx="161.2" cy="294.8" r="0.62" fill="#0102dd"/><circle cx="147.6" cy="267.0" r="0.34" fill="#0912b6"/><circle cx="139.6" cy="276.4" r="0.34" fill="#0b16f3"/><circle cx="136.7" cy="293.5" r="0.55" fill="#1021b1"/><circle cx="148.3" cy="267.6" r="0.43" fill="#0b1667"/><circle cx="158.9" cy="307.1" r="0.53" fill="#12248e"/><circle cx="132.3" cy="298.9" r="0.58" fill="#0a15ef"/><circle cx="159.0" cy="306.6" r="0.41" fill="#0a1597"/><circle cx="150.3" cy="278.0" r="0.37" fill="#050ba1"/><circle cx="158.1" cy="267.7" r="0.61" fill="#0408df"/><circle cx="147.3" cy="275.9" r="0.54" fill="#0103db"/><circle cx="133.7" cy="299.6" r="0.47" fill="#1428ec"/><circle cx="131.1" cy="267.4" r="0.51" fill="#0c18a9"/><circle cx="133.0" cy="303.2" r="0.67" fill="#02047a"/><circle cx="165.1" cy="292.4" r="0.47" fill="#0c18d3"/><circle cx="153.2" cy="305.4" r="0.60" fill="#0e1ddd"/><circle cx="146.6" cy="288.1" r="0.65" fill="#0e1cfd"/><circle cx="165.0" cy="273.2" r="0.47" fill="#0c186c"/><circle cx="164.1" cy="277.5" r="0.55" fill="#0811ad"/><circle cx="162.3" cy="279.5" r="0.68" fill="#10216e"/><circle cx="170.9" cy="281.6" r="0.37" fill="#12256a"/><circle cx="149.2" cy="279.0" r="0.49" fill="#010399"/><circle cx="138.8" cy="307.5" r="0.45" fill="#0408fb"/><circle cx="158.4" cy="273.8" r="0.69" fill="#0001f4"/><circle cx="139.7" cy="289.8" r="0.56" fill="#030696"/><circle cx="165.0" cy="270.2" r="0.44" fill="#050bcb"/><circle cx="132.1" cy="299.6" r="0.58" fill="#0307a4"/><circle cx="136.6" cy="306.9" r="0.52" fill="#0c196c"/><circle cx="162.7" cy="287.5" r="0.38" fill="#0f1ed9"/><circle cx="138.7" cy="297.3" r="0.45" fill="#000179"/><circle cx="153.4" cy="285.9" r="0.60" fill="#070ff9"/><circle cx="137.7" cy="278.3" r="0.48" fill="#0e1df1"/><circle cx="155.9" cy="280.7" r="0.47" fill="#0f1fb5"/><circle cx="162.4" cy="308.0" r="0.40" fill="#0205e4"/><circle cx="136.1" cy="276.5" r="0.52" fill="#070fa4"/><circle cx="156.6" cy="273.9" r="0.37" fill="#0c18e6"/><circle cx="145.3" cy="305.9" r="0.46" fill="#1224c9"/><circle cx="147.5" cy="292.8" r="0.46" fill="#1428fb"/><circle cx="134.8" cy="290.8" r="0.49" fill="#0a157d"/><circle cx="130.9" cy="281.2" r="0.45" fill="#0c19b6"/><circle cx="166.1" cy="282.6" r="0.45" fill="#0205f7"/><circle cx="131.9" cy="294.8" r="0.32" fill="#060dfa"/><circle cx="132.7" cy="293.7" r="0.50" fill="#1020bd"/><circle cx="163.1" cy="279.9" r="0.38" fill="#0b17cd"/><circle cx="140.6" cy="267.7" r="0.32" fill="#0e1daa"/><circle cx="169.8" cy="269.9" r="0.53" fill="#1021e0"/><circle cx="151.0" cy="292.0" r="0.32" fill="#0f1f66"/><circle cx="149.5" cy="273.3" r="0.62" fill="#060dd4"/><circle cx="165.2" cy="276.0" r="0.64" fill="#060c73"/><circle cx="133.9" cy="305.8" r="0.38" fill="#0b1694"/><circle cx="130.4" cy="305.9" r="0.58" fill="#132697"/><circle cx="161.6" cy="288.2" r="0.48" fill="#010266"/><circle cx="155.7" cy="296.3" r="0.62" fill="#0a14af"/><circle cx="157.0" cy="278.3" r="0.36" fill="#0e1cf8"/><circle cx="145.0" cy="294.6" r="0.54" fill="#0d1bd0"/><circle cx="144.1" cy="277.5" r="0.41" fill="#0e1d9e"/><circle cx="145.8" cy="301.8" r="0.53" fill="#0408af"/><circle cx="143.5" cy="308.0" r="0.30" fill="#000068"/><circle cx="142.4" cy="293.7" r="0.57" fill="#0c199d"/><circle cx="147.5" cy="305.5" r="0.38" fill="#0f1ef2"/><circle cx="166.3" cy="300.3" r="0.62" fill="#070eba"/><circle cx="161.2" cy="304.0" r="0.33" fill="#0306da"/><circle cx="146.4" cy="293.5" r="0.62" fill="#1428a8"/><circle cx="166.5" cy="288.0" r="0.58" fill="#1225ed"/><circle cx="156.2" cy="306.8" r="0.47" fill="#00018e"/><circle cx="133.6" cy="275.8" r="0.38" fill="#0001dd"/><circle cx="169.3" cy="291.7" r="0.68" fill="#02058d"/><circle cx="137.8" cy="268.0" r="0.60" fill="#1327bd"/><circle cx="134.0" cy="290.5" r="0.49" fill="#091278"/><circle cx="136.2" cy="279.0" r="0.58" fill="#0a14df"/><circle cx="164.1" cy="278.8" r="0.50" fill="#0d1b90"/><circle cx="142.5" cy="278.0" r="0.61" fill="#0d1afd"/><circle cx="131.4" cy="294.4" r="0.68" fill="#0408d5"/><circle cx="136.3" cy="271.9" r="0.49" fill="#0912ce"/><circle cx="171.9" cy="303.3" r="0.38" fill="#02056d"/><circle cx="143.7" cy="292.7" r="0.40" fill="#01029e"/><circle cx="154.9" cy="284.9" r="0.57" fill="#070ff2"/><circle cx="153.3" cy="270.5" r="0.50" fill="#0e1d8c"/><circle cx="144.1" cy="266.9" r="0.31" fill="#14288c"/><circle cx="140.9" cy="286.8" r="0.46" fill="#050b71"/><circle cx="130.7" cy="298.5" r="0.65" fill="#0f1e9c"/><circle cx="149.5" cy="308.2" r="0.67" fill="#1224e1"/><circle cx="140.7" cy="300.7" r="0.63" fill="#030668"/><circle cx="131.6" cy="282.2" r="0.69" fill="#0205dd"/><circle cx="131.4" cy="294.7" r="0.52" fill="#11236d"/><circle cx="153.8" cy="288.5" r="0.43" fill="#0000ce"/><circle cx="151.6" cy="272.3" r="0.32" fill="#040965"/><circle cx="149.8" cy="270.4" r="0.51" fill="#060daf"/><circle cx="155.0" cy="288.0" r="0.63" fill="#1326b4"/><circle cx="135.9" cy="275.5" r="0.33" fill="#01028b"/><circle cx="136.8" cy="291.0" r="0.31" fill="#0a1481"/><circle cx="142.2" cy="275.1" r="0.41" fill="#020566"/><circle cx="154.9" cy="271.2" r="0.64" fill="#1326c4"/><circle cx="150.4" cy="301.5" r="0.45" fill="#0e1ddb"/><circle cx="164.0" cy="285.5" r="0.59" fill="#112388"/><circle cx="141.8" cy="301.8" r="0.67" fill="#00009f"/><circle cx="136.3" cy="297.1" r="0.57" fill="#060c98"/><circle cx="171.5" cy="286.2" r="0.69" fill="#1327e4"/><circle cx="160.5" cy="272.5" r="0.62" fill="#0102d5"/><circle cx="139.4" cy="284.5" r="0.56" fill="#0b17fe"/><circle cx="168.8" cy="298.4" r="0.45" fill="#0d1b90"/><circle cx="171.5" cy="282.6" r="0.60" fill="#1123fa"/><circle cx="138.5" cy="287.0" r="0.57" fill="#122580"/><circle cx="145.8" cy="300.0" r="0.39" fill="#030767"/><circle cx="139.5" cy="284.9" r="0.41" fill="#0913ea"/><circle cx="141.5" cy="284.8" r="0.67" fill="#0810fe"/><circle cx="148.7" cy="289.8" r="0.62" fill="#060c98"/><circle cx="145.1" cy="272.5" r="0.48" fill="#070fb3"/><circle cx="158.5" cy="281.9" r="0.56" fill="#1225f7"/><circle cx="155.0" cy="284.7" r="0.47" fill="#050b84"/><circle cx="157.4" cy="280.2" r="0.41" fill="#0306ce"/><circle cx="168.9" cy="302.9" r="0.62" fill="#132674"/><circle cx="164.0" cy="303.7" r="0.70" fill="#0f1e98"/><circle cx="141.0" cy="267.4" r="0.36" fill="#0205eb"/><circle cx="149.8" cy="276.7" r="0.54" fill="#0a1467"/><circle cx="153.5" cy="274.8" r="0.52" fill="#0f1ee4"/><circle cx="139.0" cy="271.0" r="0.65" fill="#1224ac"/><circle cx="157.2" cy="296.1" r="0.52" fill="#050b9d"/><circle cx="138.6" cy="294.6" r="0.30" fill="#0409c6"/><circle cx="132.2" cy="302.8" r="0.49" fill="#112391"/><circle cx="157.6" cy="271.4" r="0.32" fill="#060c99"/><circle cx="135.1" cy="282.8" r="0.35" fill="#0409af"/><circle cx="166.1" cy="296.0" r="0.41" fill="#0f1e82"/><circle cx="133.9" cy="279.8" r="0.33" fill="#112287"/><circle cx="172.0" cy="280.4" r="0.63" fill="#0c1872"/><circle cx="136.6" cy="268.9" r="0.51" fill="#102178"/><circle cx="145.5" cy="300.0" r="0.46" fill="#0912e9"/><circle cx="150.6" cy="305.1" r="0.61" fill="#060c83"/><circle cx="156.5" cy="296.7" r="0.69" fill="#070fe0"/><circle cx="153.7" cy="278.0" r="0.49" fill="#0c19ec"/><circle cx="136.2" cy="289.4" r="0.41" fill="#14287f"/><circle cx="139.7" cy="281.0" r="0.59" fill="#112370"/><circle cx="150.5" cy="290.9" r="0.64" fill="#020588"/><circle cx="163.0" cy="280.9" r="0.35" fill="#0307b1"/><circle cx="172.0" cy="277.5" r="0.58" fill="#11226b"/><circle cx="168.9" cy="269.5" r="0.55" fill="#0c199c"/><circle cx="153.2" cy="304.8" r="0.54" fill="#1020a3"/><circle cx="160.0" cy="281.9" r="0.66" fill="#0a15ec"/><circle cx="138.0" cy="269.4" r="0.69" fill="#0d1ab9"/><circle cx="163.1" cy="285.5" r="0.30" fill="#0f1f84"/><circle cx="141.2" cy="289.9" r="0.52" fill="#0a15a5"/><circle cx="151.0" cy="269.1" r="0.68" fill="#0b16a2"/><circle cx="168.3" cy="303.9" r="0.46" fill="#11238e"/><circle cx="142.2" cy="305.4" r="0.32" fill="#0810a7"/><circle cx="169.7" cy="285.5" r="0.49" fill="#1225d3"/><circle cx="130.4" cy="281.7" r="0.43" fill="#122494"/><circle cx="140.0" cy="275.9" r="0.65" fill="#0b17f3"/><circle cx="148.9" cy="279.0" r="0.55" fill="#0205bd"/><circle cx="131.1" cy="273.6" r="0.62" fill="#0d1b7b"/><circle cx="144.6" cy="282.6" r="0.34" fill="#1122cf"/><circle cx="156.2" cy="288.6" r="0.58" fill="#0d1a73"/><circle cx="138.9" cy="271.4" r="0.52" fill="#0103a8"/><circle cx="131.2" cy="290.8" r="0.66" fill="#03066f"/><circle cx="157.3" cy="301.1" r="0.52" fill="#0e1c72"/><circle cx="139.2" cy="267.3" r="0.58" fill="#03078d"/><circle cx="163.8" cy="304.4" r="0.66" fill="#0f1ec3"/><circle cx="155.5" cy="293.1" r="0.69" fill="#0102aa"/><circle cx="132.3" cy="296.9" r="0.30" fill="#050ba1"/><circle cx="137.1" cy="282.6" r="0.64" fill="#0205f5"/><circle cx="132.3" cy="283.7" r="0.39" fill="#0d1bf0"/><circle cx="134.0" cy="306.7" r="0.65" fill="#0e1da3"/><circle cx="136.2" cy="299.8" r="0.39" fill="#0b16e2"/><circle cx="147.8" cy="292.1" r="0.68" fill="#12259c"/><circle cx="133.1" cy="299.0" r="0.39" fill="#0811f3"/><circle cx="134.0" cy="268.8" r="0.69" fill="#0913be"/><circle cx="138.6" cy="294.7" r="0.37" fill="#081074"/><circle cx="165.9" cy="270.7" r="0.47" fill="#010378"/><circle cx="135.1" cy="269.1" r="0.43" fill="#0408cb"/><circle cx="146.7" cy="268.1" r="0.57" fill="#1224e0"/><circle cx="135.3" cy="276.7" r="0.37" fill="#060db6"/><circle cx="171.3" cy="290.5" r="0.59" fill="#070ef3"/><circle cx="140.2" cy="302.6" r="0.63" fill="#1327b4"/><circle cx="141.2" cy="291.9" r="0.61" fill="#0d1ade"/><circle cx="172.0" cy="293.6" r="0.59" fill="#0811d5"/><circle cx="156.3" cy="291.2" r="0.62" fill="#0a14e7"/><circle cx="166.3" cy="295.9" r="0.47" fill="#0102f2"/><circle cx="171.7" cy="308.1" r="0.41" fill="#0912cc"/><circle cx="154.1" cy="280.9" r="0.33" fill="#0d1a99"/><circle cx="166.7" cy="285.7" r="0.32" fill="#1122fc"/><circle cx="140.3" cy="304.1" r="0.59" fill="#10216a"/><circle cx="143.4" cy="270.6" r="0.42" fill="#0b17ad"/><circle cx="167.5" cy="286.3" r="0.53" fill="#0811f6"/><circle cx="164.8" cy="272.4" r="0.38" fill="#060dad"/><circle cx="160.1" cy="297.1" r="0.35" fill="#122498"/><circle cx="157.6" cy="279.8" r="0.40" fill="#0205f4"/><circle cx="165.5" cy="304.2" r="0.48" fill="#0d1b8b"/><circle cx="163.5" cy="304.8" r="0.56" fill="#0d1bc5"/><circle cx="137.9" cy="290.3" r="0.69" fill="#142896"/><circle cx="151.5" cy="293.5" r="0.60" fill="#070fa7"/><circle cx="158.4" cy="301.1" r="0.43" fill="#0b168e"/><circle cx="132.6" cy="306.3" r="0.44" fill="#0913b4"/><circle cx="140.4" cy="301.0" r="0.66" fill="#1428be"/><circle cx="162.7" cy="307.0" r="0.53" fill="#050b99"/><circle cx="141.7" cy="274.8" r="0.50" fill="#050ab5"/><circle cx="150.4" cy="308.2" r="0.55" fill="#0810cd"/><circle cx="163.9" cy="282.9" r="0.69" fill="#0408c6"/><circle cx="141.5" cy="297.3" r="0.62" fill="#0001b6"/><circle cx="163.1" cy="284.5" r="0.56" fill="#0409fe"/><circle cx="159.4" cy="298.9" r="0.63" fill="#1428d9"/><circle cx="163.5" cy="285.6" r="0.64" fill="#0d1ad6"/><circle cx="166.0" cy="272.2" r="0.68" fill="#0a1472"/><circle cx="171.8" cy="298.0" r="0.34" fill="#0c19af"/><circle cx="141.5" cy="284.8" r="0.39" fill="#13268f"/><circle cx="152.1" cy="297.0" r="0.44" fill="#122473"/><circle cx="132.2" cy="267.4" r="0.69" fill="#070f7b"/><circle cx="136.0" cy="300.8" r="0.32" fill="#0001b7"/><circle cx="145.7" cy="300.3" r="0.69" fill="#070e86"/><circle cx="151.2" cy="271.4" r="0.66" fill="#1225df"/><circle cx="152.9" cy="292.6" r="0.46" fill="#0e1c85"/><circle cx="170.6" cy="306.1" r="0.37" fill="#0a158a"/><circle cx="159.1" cy="284.3" r="0.43" fill="#0a148b"/><circle cx="141.0" cy="299.8" r="0.37" fill="#0b17f1"/><circle cx="157.3" cy="271.1" r="0.65" fill="#0d1aa1"/><circle cx="147.7" cy="287.7" r="0.36" fill="#0e1d66"/><circle cx="148.1" cy="272.5" r="0.45" fill="#1428e0"/><circle cx="144.8" cy="298.3" r="0.61" fill="#1122de"/><circle cx="161.7" cy="289.6" r="0.37" fill="#1224a3"/><circle cx="131.6" cy="278.0" r="0.38" fill="#0205e6"/><circle cx="131.0" cy="298.7" r="0.61" fill="#0001da"/><circle cx="150.5" cy="282.6" r="0.34" fill="#0a14cc"/><circle cx="145.0" cy="296.6" r="0.63" fill="#10217f"/><circle cx="154.7" cy="301.8" r="0.47" fill="#0c19ca"/><circle cx="162.4" cy="281.0" r="0.31" fill="#0b17ed"/><circle cx="136.6" cy="287.8" r="0.54" fill="#1122be"/><circle cx="169.3" cy="285.0" r="0.51" fill="#0306d4"/><circle cx="163.7" cy="285.2" r="0.42" fill="#1122b1"/><circle cx="159.4" cy="267.0" r="0.66" fill="#1021f3"/><circle cx="141.9" cy="286.1" r="0.56" fill="#070f9f"/><circle cx="141.0" cy="267.3" r="0.69" fill="#0000b8"/><circle cx="156.7" cy="300.3" r="0.69" fill="#0a1487"/><circle cx="166.7" cy="271.3" r="0.48" fill="#0f1efd"/><circle cx="151.2" cy="271.9" r="0.40" fill="#0103f2"/><circle cx="151.6" cy="279.1" r="0.69" fill="#0f1ed3"/><circle cx="139.5" cy="306.0" r="0.68" fill="#1122eb"/><circle cx="171.1" cy="305.5" r="0.40" fill="#091299"/><circle cx="132.3" cy="303.8" r="0.36" fill="#060ce5"/><circle cx="130.8" cy="299.2" r="0.65" fill="#0810bf"/><circle cx="132.6" cy="306.3" r="0.39" fill="#030771"/><circle cx="145.2" cy="268.3" r="0.36" fill="#0b17d7"/><circle cx="161.9" cy="297.6" r="0.35" fill="#0e1d64"/><circle cx="156.0" cy="294.9" r="0.68" fill="#1327a9"/><circle cx="171.0" cy="293.4" r="0.50" fill="#0a1578"/><circle cx="154.7" cy="306.2" r="0.52" fill="#0102c2"/><circle cx="167.3" cy="289.2" r="0.36" fill="#1224eb"/><circle cx="166.8" cy="277.3" r="0.31" fill="#0913a5"/><circle cx="132.9" cy="281.3" r="0.68" fill="#102192"/><circle cx="161.6" cy="295.0" r="0.51" fill="#0811cc"/><circle cx="145.5" cy="287.3" r="0.43" fill="#070ea6"/><circle cx="149.1" cy="288.0" r="0.48" fill="#08117c"/><circle cx="163.9" cy="278.3" r="0.41" fill="#0912a9"/><circle cx="156.4" cy="302.2" r="0.32" fill="#091279"/><circle cx="168.5" cy="296.6" r="0.41" fill="#0c18c7"/><circle cx="166.2" cy="282.8" r="0.62" fill="#050a71"/><circle cx="146.9" cy="306.9" r="0.70" fill="#091380"/><circle cx="141.4" cy="278.7" r="0.65" fill="#0b16df"/><circle cx="171.4" cy="300.6" r="0.36" fill="#1020d4"/><circle cx="138.2" cy="273.9" r="0.41" fill="#0d1bf5"/><circle cx="171.7" cy="300.9" r="0.44" fill="#0d1ac9"/><circle cx="135.6" cy="308.4" r="0.35" fill="#0811ca"/><circle cx="163.5" cy="283.8" r="0.35" fill="#13266d"/><circle cx="141.9" cy="277.2" r="0.42" fill="#010391"/><circle cx="141.2" cy="298.5" r="0.53" fill="#070f75"/><circle cx="160.3" cy="282.4" r="0.41" fill="#0e1ddb"/><circle cx="134.4" cy="299.7" r="0.31" fill="#0b17a0"/><circle cx="138.7" cy="297.6" r="0.65" fill="#070fef"/><circle cx="136.8" cy="267.7" r="0.52" fill="#0810fb"/><circle cx="159.3" cy="275.9" r="0.42" fill="#0b17c3"/><circle cx="170.1" cy="272.7" r="0.57" fill="#010287"/><circle cx="135.1" cy="290.5" r="0.62" fill="#0e1c8d"/><circle cx="171.6" cy="279.3" r="0.69" fill="#14286d"/><circle cx="130.2" cy="303.2" r="0.58" fill="#050ba1"/><circle cx="168.1" cy="304.1" r="0.36" fill="#010264"/><circle cx="170.0" cy="299.6" r="0.46" fill="#050bf9"/><circle cx="140.2" cy="306.4" r="0.56" fill="#0c186a"/><circle cx="141.3" cy="278.2" r="0.39" fill="#0408d5"/><circle cx="136.4" cy="277.9" r="0.65" fill="#0205b2"/><circle cx="166.1" cy="291.7" r="0.58" fill="#0d1a96"/><circle cx="133.7" cy="297.6" r="0.67" fill="#0913d8"/><circle cx="132.3" cy="271.7" r="0.70" fill="#11236b"/><circle cx="137.5" cy="294.5" r="0.61" fill="#12257c"/><circle cx="157.0" cy="268.5" r="0.57" fill="#000086"/><circle cx="145.0" cy="302.8" r="0.60" fill="#0d1af2"/><circle cx="155.0" cy="293.2" r="0.47" fill="#0d1aad"/><circle cx="158.0" cy="280.3" r="0.66" fill="#12259e"/><circle cx="148.2" cy="288.2" r="0.46" fill="#1327f8"/><circle cx="140.5" cy="297.0" r="0.52" fill="#0a14c5"/><circle cx="148.5" cy="268.2" r="0.47" fill="#060da2"/><circle cx="151.8" cy="304.8" r="0.54" fill="#0f1edf"/><circle cx="155.1" cy="292.3" r="0.34" fill="#030689"/><circle cx="161.3" cy="277.5" r="0.55" fill="#1123ef"/><circle cx="158.3" cy="296.7" r="0.49" fill="#0811eb"/><circle cx="133.0" cy="271.4" r="0.34" fill="#1225f4"/><circle cx="144.3" cy="269.3" r="0.63" fill="#0a15da"/><circle cx="131.4" cy="302.2" r="0.54" fill="#0001c6"/><circle cx="143.4" cy="285.9" r="0.37" fill="#0204e1"/><circle cx="141.3" cy="286.6" r="0.49" fill="#0408d0"/><circle cx="147.4" cy="275.5" r="0.58" fill="#0912de"/><circle cx="150.6" cy="305.2" r="0.46" fill="#060ca1"/><circle cx="159.9" cy="288.6" r="0.32" fill="#13269f"/><circle cx="139.2" cy="306.9" r="0.68" fill="#0d1b98"/><circle cx="146.4" cy="278.1" r="0.35" fill="#070e9e"/><circle cx="132.6" cy="272.8" r="0.69" fill="#0d1af5"/><circle cx="168.1" cy="294.8" r="0.30" fill="#050bd9"/><circle cx="142.0" cy="297.7" r="0.40" fill="#050a7d"/><circle cx="131.0" cy="269.0" r="0.34" fill="#1225a4"/><circle cx="171.1" cy="279.8" r="0.68" fill="#0810d0"/><circle cx="163.3" cy="296.0" r="0.30" fill="#0b169e"/><circle cx="133.5" cy="304.4" r="0.50" fill="#0f1ea7"/><circle cx="133.9" cy="287.7" r="0.58" fill="#0912c4"/><circle cx="143.3" cy="297.9" r="0.68" fill="#0b16b7"/><circle cx="130.9" cy="275.1" r="0.52" fill="#0102bc"/><circle cx="147.0" cy="273.9" r="0.40" fill="#0e1cff"/><circle cx="131.2" cy="270.3" r="0.47" fill="#1225ef"/><circle cx="156.3" cy="281.3" r="0.66" fill="#04087e"/><circle cx="163.0" cy="287.7" r="0.45" fill="#0a15e0"/><circle cx="162.8" cy="268.2" r="0.49" fill="#000179"/><circle cx="140.2" cy="298.8" r="0.35" fill="#0c19b9"/><circle cx="138.6" cy="305.1" r="0.48" fill="#122470"/><circle cx="143.9" cy="284.9" r="0.47" fill="#1020a2"/><circle cx="167.2" cy="267.8" r="0.55" fill="#091373"/><circle cx="143.9" cy="269.5" r="0.59" fill="#050a92"/><circle cx="152.6" cy="299.3" r="0.66" fill="#070ff7"/><circle cx="165.8" cy="271.2" r="0.64" fill="#070fd3"/><circle cx="144.7" cy="292.9" r="0.52" fill="#0f1fa4"/><circle cx="171.9" cy="275.7" r="0.40" fill="#070ec2"/><circle cx="137.4" cy="267.5" r="0.39" fill="#0b1694"/><circle cx="149.4" cy="300.4" r="0.32" fill="#070ef1"/><circle cx="134.3" cy="301.8" r="0.56" fill="#070ec1"/><circle cx="169.0" cy="292.8" r="0.66" fill="#0811be"/><circle cx="159.5" cy="286.6" r="0.33" fill="#0b177a"/><circle cx="162.6" cy="275.4" r="0.56" fill="#040968"/><circle cx="150.7" cy="277.7" r="0.66" fill="#0f1fda"/><circle cx="154.1" cy="303.4" r="0.39" fill="#040986"/><circle cx="156.6" cy="282.3" r="0.58" fill="#091298"/><circle cx="134.1" cy="270.5" r="0.39" fill="#0c19c6"/><circle cx="147.5" cy="267.8" r="0.36" fill="#0205fe"/><circle cx="164.5" cy="285.0" r="0.39" fill="#1327c4"/><circle cx="139.4" cy="268.2" r="0.31" fill="#04089b"/><circle cx="169.5" cy="307.5" r="0.38" fill="#1224f6"/><circle cx="142.2" cy="298.7" r="0.36" fill="#0b17ff"/><circle cx="142.6" cy="287.1" r="0.37" fill="#0810ea"/><circle cx="160.5" cy="278.1" r="0.37" fill="#0408b7"/><circle cx="144.7" cy="291.5" r="0.63" fill="#0205d7"/><circle cx="150.6" cy="271.5" r="0.51" fill="#0000b1"/><circle cx="171.8" cy="281.6" r="0.42" fill="#0f1e70"/><circle cx="163.3" cy="282.0" r="0.62" fill="#0c19e0"/><circle cx="150.0" cy="276.6" r="0.67" fill="#000064"/><circle cx="165.9" cy="307.2" r="0.50" fill="#060d69"/><circle cx="141.1" cy="301.9" r="0.41" fill="#112367"/><circle cx="168.8" cy="286.5" r="0.34" fill="#0e1c76"/><circle cx="144.8" cy="297.2" r="0.48" fill="#0e1dea"/><circle cx="148.1" cy="308.0" r="0.46" fill="#0204fb"/><circle cx="148.4" cy="291.1" r="0.61" fill="#0e1cf8"/><circle cx="146.9" cy="303.5" r="0.56" fill="#070fb8"/><circle cx="145.1" cy="286.0" r="0.51" fill="#0c196a"/><circle cx="140.5" cy="285.5" r="0.39" fill="#0d1a9e"/><circle cx="172.3" cy="282.1" r="0.45" fill="#060dd1"/><circle cx="134.9" cy="296.3" r="0.54" fill="#050aec"/><circle cx="131.9" cy="268.2" r="0.35" fill="#020574"/><circle cx="172.0" cy="284.6" r="0.66" fill="#0102cd"/><circle cx="165.6" cy="268.2" r="0.38" fill="#1123b8"/><circle cx="133.5" cy="288.6" r="0.64" fill="#0103f2"/><circle cx="153.0" cy="288.7" r="0.63" fill="#0c198a"/><circle cx="142.1" cy="280.8" r="0.51" fill="#102195"/><circle cx="143.3" cy="270.4" r="0.60" fill="#0d1a66"/><circle cx="134.7" cy="272.0" r="0.64" fill="#122589"/><circle cx="146.1" cy="291.0" r="0.58" fill="#0307d6"/><circle cx="150.1" cy="271.0" r="0.32" fill="#1021dd"/><circle cx="133.2" cy="278.6" r="0.54" fill="#0001bc"/><circle cx="153.1" cy="305.9" r="0.69" fill="#01038a"/><circle cx="140.6" cy="285.2" r="0.36" fill="#0810e6"/><circle cx="164.5" cy="301.8" r="0.31" fill="#0d1aaa"/><circle cx="146.1" cy="280.6" r="0.34" fill="#0e1cf9"/><circle cx="166.8" cy="277.7" r="0.38" fill="#070e98"/><circle cx="154.8" cy="288.0" r="0.45" fill="#0000ad"/><circle cx="162.8" cy="300.6" r="0.62" fill="#0d1b8b"/><circle cx="167.5" cy="286.2" r="0.61" fill="#0a1565"/><circle cx="135.3" cy="305.3" r="0.62" fill="#010284"/><circle cx="140.6" cy="286.8" r="0.53" fill="#0f1fbf"/><circle cx="148.0" cy="274.1" r="0.62" fill="#0a15c8"/><circle cx="169.3" cy="285.0" r="0.52" fill="#0b17ba"/><circle cx="156.8" cy="278.4" r="0.57" fill="#0f1ec9"/><circle cx="168.6" cy="268.6" r="0.44" fill="#00018b"/><circle cx="137.6" cy="288.5" r="0.62" fill="#1122af"/><circle cx="151.2" cy="303.0" r="0.67" fill="#132782"/><circle cx="152.1" cy="301.2" r="0.38" fill="#132769"/><circle cx="134.5" cy="293.5" r="0.53" fill="#070fdc"/><circle cx="160.3" cy="278.7" r="0.56" fill="#02057a"/><circle cx="168.1" cy="301.0" r="0.45" fill="#0306a2"/><circle cx="141.9" cy="277.2" r="0.53" fill="#0103ff"/><circle cx="172.2" cy="294.9" r="0.49" fill="#122474"/><circle cx="171.0" cy="290.3" r="0.45" fill="#010375"/><circle cx="168.6" cy="303.3" r="0.62" fill="#0204d8"/><circle cx="165.8" cy="302.3" r="0.59" fill="#0409e4"/><circle cx="170.5" cy="280.0" r="0.42" fill="#0e1de9"/><circle cx="150.6" cy="282.7" r="0.51" fill="#112368"/><circle cx="144.0" cy="302.5" r="0.41" fill="#030689"/><circle cx="154.5" cy="282.5" r="0.41" fill="#0205c3"/><circle cx="161.6" cy="277.1" r="0.50" fill="#0b1796"/><circle cx="170.9" cy="272.9" r="0.43" fill="#0f1f9c"/><circle cx="153.8" cy="296.1" r="0.33" fill="#0b16e1"/><circle cx="167.4" cy="291.8" r="0.66" fill="#0306de"/><circle cx="172.0" cy="267.3" r="0.40" fill="#0103a2"/><circle cx="147.2" cy="278.3" r="0.36" fill="#0b17fa"/><circle cx="156.6" cy="298.9" r="0.45" fill="#0e1d90"/><circle cx="149.2" cy="283.5" r="0.42" fill="#0d1bff"/><circle cx="151.8" cy="274.6" r="0.66" fill="#122470"/><circle cx="155.3" cy="307.3" r="0.34" fill="#0b1780"/><circle cx="151.3" cy="274.0" r="0.65" fill="#060dc7"/><circle cx="167.4" cy="285.3" r="0.33" fill="#0c19f0"/><circle cx="135.8" cy="281.1" r="0.42" fill="#050b86"/><circle cx="143.9" cy="299.7" r="0.44" fill="#09126b"/><circle cx="158.4" cy="298.1" r="0.39" fill="#060d99"/><circle cx="170.4" cy="271.8" r="0.67" fill="#0001e7"/><circle cx="166.4" cy="292.7" r="0.32" fill="#0d1a84"/><circle cx="158.7" cy="295.2" r="0.65" fill="#0e1dd6"/><circle cx="143.8" cy="282.9" r="0.54" fill="#050b6f"/><circle cx="169.6" cy="296.4" r="0.34" fill="#0e1c7f"/><circle cx="140.2" cy="272.0" r="0.31" fill="#0811df"/><circle cx="166.1" cy="306.7" r="0.61" fill="#11239d"/><circle cx="147.3" cy="277.8" r="0.51" fill="#0a1464"/><circle cx="152.2" cy="306.6" r="0.58" fill="#070eba"/><circle cx="154.9" cy="306.0" r="0.30" fill="#1122d9"/><circle cx="154.0" cy="283.3" r="0.65" fill="#1326ac"/><circle cx="164.3" cy="297.9" r="0.61" fill="#030780"/><circle cx="134.4" cy="267.4" r="0.32" fill="#102082"/><circle cx="158.5" cy="269.1" r="0.45" fill="#0e1cab"/><circle cx="158.1" cy="303.6" r="0.42" fill="#0811e7"/><circle cx="141.9" cy="273.4" r="0.31" fill="#0c19b9"/><circle cx="160.0" cy="292.3" r="0.59" fill="#0001cd"/><circle cx="156.0" cy="297.1" r="0.33" fill="#08117e"/><circle cx="146.7" cy="297.0" r="0.41" fill="#122564"/><circle cx="149.6" cy="306.8" r="0.32" fill="#0f1fb0"/><circle cx="133.1" cy="294.6" r="0.32" fill="#0001d3"/><circle cx="156.4" cy="281.5" r="0.66" fill="#0c18d0"/><circle cx="137.1" cy="277.2" r="0.56" fill="#1224d7"/><circle cx="134.9" cy="267.1" r="0.43" fill="#0205ba"/><circle cx="151.3" cy="269.8" r="0.58" fill="#0e1ca9"/><circle cx="148.8" cy="269.8" r="0.68" fill="#0205c2"/><circle cx="159.8" cy="301.1" r="0.47" fill="#0e1c80"/><circle cx="130.7" cy="277.6" r="0.52" fill="#0001ce"/><circle cx="140.5" cy="268.6" r="0.67" fill="#0912dd"/><circle cx="143.9" cy="299.0" r="0.38" fill="#0102a8"/><circle cx="159.2" cy="270.4" r="0.69" fill="#0204d7"/><circle cx="165.1" cy="285.3" r="0.53" fill="#0a1564"/><circle cx="146.9" cy="302.5" r="0.56" fill="#0d1a7d"/><circle cx="144.5" cy="281.2" r="0.34" fill="#0001fc"/><circle cx="166.1" cy="300.3" r="0.67" fill="#12256c"/><circle cx="130.8" cy="278.6" r="0.31" fill="#060d76"/><circle cx="155.0" cy="278.3" r="0.42" fill="#0409fd"/><circle cx="158.7" cy="277.5" r="0.30" fill="#142896"/><circle cx="146.9" cy="305.4" r="0.36" fill="#04098e"/><circle cx="131.9" cy="303.0" r="0.57" fill="#12259d"/><circle cx="159.6" cy="271.6" r="0.68" fill="#060ca8"/><circle cx="158.2" cy="292.5" r="0.49" fill="#070e84"/><circle cx="168.9" cy="273.2" r="0.38" fill="#11229b"/><circle cx="132.9" cy="293.4" r="0.50" fill="#1020d1"/><circle cx="157.2" cy="275.5" r="0.39" fill="#070ef2"/><circle cx="151.4" cy="293.4" r="0.33" fill="#0e1d94"/><circle cx="164.2" cy="292.8" r="0.49" fill="#060ddb"/><circle cx="141.3" cy="283.7" r="0.37" fill="#0103db"/><circle cx="162.7" cy="271.8" r="0.43" fill="#0e1cd1"/><circle cx="141.8" cy="275.4" r="0.56" fill="#02049d"/><circle cx="161.2" cy="296.7" r="0.45" fill="#122470"/><circle cx="142.5" cy="290.1" r="0.61" fill="#11236d"/><circle cx="148.4" cy="274.9" r="0.63" fill="#0b178b"/><circle cx="134.3" cy="305.2" r="0.44" fill="#1123c2"/><circle cx="159.5" cy="283.1" r="0.51" fill="#0b17af"/><circle cx="154.2" cy="272.6" r="0.53" fill="#0a1492"/><circle cx="138.5" cy="278.1" r="0.45" fill="#0000cb"/><circle cx="164.4" cy="308.3" r="0.47" fill="#0c1873"/><circle cx="148.6" cy="283.1" r="0.53" fill="#0e1dc5"/><circle cx="144.4" cy="285.0" r="0.60" fill="#01028a"/><circle cx="152.6" cy="297.6" r="0.36" fill="#0000d8"/><circle cx="150.0" cy="280.9" r="0.35" fill="#112299"/><circle cx="133.1" cy="272.7" r="0.58" fill="#070eed"/><circle cx="138.8" cy="302.0" r="0.63" fill="#0f1eb5"/><circle cx="151.8" cy="276.1" r="0.50" fill="#0e1dc7"/><circle cx="155.6" cy="281.0" r="0.58" fill="#0e1dfc"/><circle cx="138.0" cy="276.0" r="0.34" fill="#020476"/><circle cx="156.0" cy="306.3" r="0.34" fill="#1326df"/><circle cx="155.0" cy="277.6" r="0.68" fill="#030778"/><circle cx="159.0" cy="307.3" r="0.47" fill="#0409ca"/><circle cx="167.7" cy="275.5" r="0.39" fill="#1225d5"/><circle cx="153.9" cy="293.1" r="0.64" fill="#0913e0"/><circle cx="147.5" cy="279.5" r="0.31" fill="#010387"/><circle cx="149.1" cy="307.2" r="0.43" fill="#070fb3"/><circle cx="160.1" cy="273.4" r="0.39" fill="#081099"/><circle cx="137.6" cy="272.8" r="0.66" fill="#0f1eca"/><circle cx="149.1" cy="271.5" r="0.43" fill="#070ecf"/><circle cx="140.1" cy="270.8" r="0.41" fill="#1122d9"/><circle cx="167.5" cy="298.7" r="0.34" fill="#1326d5"/><circle cx="155.5" cy="292.7" r="0.31" fill="#0f1e75"/><circle cx="161.4" cy="306.6" r="0.56" fill="#0d1a69"/><circle cx="134.0" cy="295.9" r="0.62" fill="#0205b1"/><circle cx="161.8" cy="288.7" r="0.59" fill="#0b16ec"/><circle cx="151.3" cy="284.7" r="0.50" fill="#10218a"/><circle cx="154.9" cy="300.4" r="0.51" fill="#0810c2"/><circle cx="155.6" cy="300.3" r="0.49" fill="#0409bf"/><circle cx="164.1" cy="281.2" r="0.30" fill="#0a14ca"/><circle cx="170.1" cy="283.7" r="0.43" fill="#040980"/><circle cx="144.9" cy="303.9" r="0.65" fill="#0001db"/><circle cx="151.5" cy="269.7" r="0.69" fill="#0912b5"/><circle cx="159.8" cy="298.6" r="0.35" fill="#0f1fed"/><circle cx="165.8" cy="283.5" r="0.53" fill="#13276b"/><circle cx="139.5" cy="308.4" r="0.66" fill="#13269c"/><circle cx="142.2" cy="269.4" r="0.30" fill="#050a6d"/><circle cx="145.9" cy="291.2" r="0.44" fill="#050b73"/><circle cx="137.0" cy="280.4" r="0.63" fill="#1225c3"/><circle cx="152.6" cy="303.8" r="0.38" fill="#0a14bc"/><circle cx="168.6" cy="304.5" r="0.46" fill="#12246c"/><circle cx="138.2" cy="292.8" r="0.65" fill="#0a15cd"/><circle cx="139.3" cy="285.7" r="0.47" fill="#0306bb"/><circle cx="152.7" cy="288.1" r="0.53" fill="#1326e9"/><circle cx="131.7" cy="305.1" r="0.32" fill="#0c1996"/><circle cx="163.1" cy="290.3" r="0.38" fill="#0c19d2"/><circle cx="168.1" cy="275.2" r="0.61" fill="#060d72"/><circle cx="133.2" cy="266.8" r="0.53" fill="#0e1c6a"/><circle cx="137.9" cy="298.4" r="0.32" fill="#070fea"/><circle cx="151.3" cy="271.5" r="0.52" fill="#0f1eef"/><circle cx="136.2" cy="274.6" r="0.62" fill="#070fd3"/><circle cx="131.2" cy="287.5" r="0.54" fill="#0912c5"/><circle cx="157.3" cy="286.6" r="0.66" fill="#0c19c0"/><circle cx="135.7" cy="277.7" r="0.60" fill="#132666"/><circle cx="139.2" cy="282.5" r="0.63" fill="#0f1e64"/><circle cx="141.1" cy="273.0" r="0.44" fill="#0d1bf9"/><circle cx="140.3" cy="303.0" r="0.39" fill="#00018d"/><circle cx="170.3" cy="291.6" r="0.66" fill="#0b17a8"/></g><rect x="165.3" y="306.1" width="5.6" height="1" fill="#ddd"/><text x="36.8" y="224.4" font-size="6" fill="#a8122e" textLength="32" lengthAdjust="spacingAndGlyphs" stroke="#a8122e" stroke-width="0.12">Fibrin(ogen)</text><text x="86" y="224.6" font-size="6" fill="#30a830" textLength="14.6" lengthAdjust="spacingAndGlyphs" stroke="#30a830" stroke-width="0.12">CD41</text><text x="130.6" y="224.4" font-size="6" fill="#f4f4f4" textLength="17.5" lengthAdjust="spacingAndGlyphs" stroke="#f4f4f4" stroke-width="0.12">Merge</text><g filter="url(#soft)"><path d="M59.099999999999994,232.4 Q63.699999999999996,233.0 62.9,236.4 Q62.099999999999994,239.2 58.699999999999996,239.4" fill="none" stroke="#e01414" stroke-width="1.7"/><ellipse cx="61.5" cy="236.6" rx="1.4" ry="2.0" fill="#ff2a1a"/><path d="M58.3,235.0 Q59.699999999999996,236.2 58.699999999999996,238.2" fill="none" stroke="#e01414" stroke-width="0.8"/></g><ellipse cx="60.2" cy="245.5" rx="1.5" ry="2.2" fill="#e01010" opacity="1" transform="rotate(15 60.2 245.5)" filter="url(#soft)"/><ellipse cx="58.8" cy="249.2" rx="1.3" ry="1.5" fill="#d01010" opacity="1" transform="rotate(0 58.8 249.2)" filter="url(#soft)"/><ellipse cx="61.8" cy="250.8" rx="1.1" ry="1.3" fill="#c01010" opacity="1" transform="rotate(0 61.8 250.8)" filter="url(#soft)"/><ellipse cx="70.7" cy="255.2" rx="0.9" ry="0.8" fill="#e01010" opacity="1" transform="rotate(0 70.7 255.2)" filter="url(#soft)"/><g filter="url(#soft)"><path d="M106.64,233.52 Q110.32,234.0 109.67999999999999,236.72 Q109.03999999999999,238.96 106.32,239.12" fill="none" stroke="#1a9a1a" stroke-width="1.36"/><ellipse cx="108.55999999999999" cy="236.88" rx="1.1199999999999999" ry="1.6" fill="#38d838"/><path d="M106.0,235.6 Q107.11999999999999,236.56 106.32,238.16" fill="none" stroke="#1a9a1a" stroke-width="0.6400000000000001"/></g><ellipse cx="107.5" cy="246.5" rx="0.6" ry="1.8" fill="#10a010" opacity="1" transform="rotate(15 107.5 246.5)" filter="url(#soft)"/><ellipse cx="107.5" cy="251" rx="0.6" ry="0.8" fill="#108010" opacity="1" transform="rotate(0 107.5 251)" filter="url(#soft)"/><g filter="url(#soft)"><path d="M153.10000000000002,232.6 Q157.70000000000002,233.2 156.9,236.6 Q156.10000000000002,239.39999999999998 152.70000000000002,239.6" fill="none" stroke="#ff6a10" stroke-width="1.7"/><ellipse cx="155.5" cy="236.79999999999998" rx="1.4" ry="2.0" fill="#ffc020"/><path d="M152.3,235.2 Q153.70000000000002,236.39999999999998 152.70000000000002,238.39999999999998" fill="none" stroke="#ff6a10" stroke-width="0.8"/></g><ellipse cx="154.7" cy="245.5" rx="1.4" ry="2.2" fill="#d03060" opacity="1" transform="rotate(15 154.7 245.5)" filter="url(#soft)"/><ellipse cx="153.4" cy="249.2" rx="1.2" ry="1.4" fill="#c02840" opacity="1" transform="rotate(0 153.4 249.2)" filter="url(#soft)"/><ellipse cx="156.2" cy="250.8" rx="1" ry="1.2" fill="#b03030" opacity="1" transform="rotate(0 156.2 250.8)" filter="url(#soft)"/><ellipse cx="164.7" cy="255.2" rx="0.9" ry="0.8" fill="#ff3010" opacity="1" transform="rotate(0 164.7 255.2)" filter="url(#soft)"/><ellipse cx="64.6" cy="289" rx="0.9" ry="2.4" fill="#f01010" opacity="1" transform="rotate(35 64.6 289)" filter="url(#soft)"/><ellipse cx="110.9" cy="289" rx="0.9" ry="2.4" fill="#30e030" opacity="1" transform="rotate(35 110.9 289)" filter="url(#soft)"/><ellipse cx="157.7" cy="289" rx="0.9" ry="2.4" fill="#ffd060" opacity="1" transform="rotate(35 157.7 289)" filter="url(#soft)"/><path d="M196.1,208.18 V310.0 H229" stroke="#222" stroke-width="1.1" fill="none"/><line x1="193.1" y1="310.00" x2="196.1" y2="310.00" stroke="#222" stroke-width="0.9"/><text x="192.2" y="312.2" font-size="6.1" fill="#333" text-anchor="end" stroke="#333" stroke-width="0.12">0</text><line x1="193.1" y1="276.06" x2="196.1" y2="276.06" stroke="#222" stroke-width="0.9"/><text x="192.2" y="278.26" font-size="6.1" fill="#333" text-anchor="end" stroke="#333" stroke-width="0.12">20</text><line x1="193.1" y1="242.12" x2="196.1" y2="242.12" stroke="#222" stroke-width="0.9"/><text x="192.2" y="244.32" font-size="6.1" fill="#333" text-anchor="end" stroke="#333" stroke-width="0.12">40</text><line x1="193.1" y1="208.18" x2="196.1" y2="208.18" stroke="#222" stroke-width="0.9"/><text x="192.2" y="210.38" font-size="6.1" fill="#333" text-anchor="end" stroke="#333" stroke-width="0.12">60</text><rect x="201" y="246.70" width="9.3" height="63.30" fill="#d9786b"/><rect x="214.7" y="281.83" width="9.7" height="28.17" fill="#82a5c2"/><path d="M205.5,236.3 V256.3 M203.0,236.3 H208.0 M203.0,256.3 H208.0" stroke="#d0102a" stroke-width="0.8" fill="none"/><circle cx="205.4" cy="225.1" r="1.2" fill="#d0102a"/><circle cx="205.5" cy="242" r="1.2" fill="#d0102a"/><circle cx="205.5" cy="246" r="1.2" fill="#d0102a"/><circle cx="205.4" cy="272.1" r="1.2" fill="#d0102a"/><line x1="219.6" y1="267.5" x2="219.6" y2="275.7" stroke="#0b3a78" stroke-width="0.8"/><path d="M219.6,275.7 V287.6 M217.1,275.7 H222.1 M217.1,287.6 H222.1" stroke="#0b3a78" stroke-width="0.8" fill="none"/><circle cx="219.6" cy="267.5" r="1.2" fill="#0b3a78"/><circle cx="219.6" cy="275.7" r="1.2" fill="#0b3a78"/><circle cx="219.6" cy="287.6" r="1.2" fill="#0b3a78"/><circle cx="219.6" cy="292.6" r="1.2" fill="#0b3a78"/><text x="202.8" y="213.7" font-size="7.8" fill="#333" textLength="22.9" lengthAdjust="spacingAndGlyphs" stroke="#333" stroke-width="0.12">P&lt;0.05</text><text x="196.3" y="318.1" font-size="6.1" fill="#333" textLength="34.1" lengthAdjust="spacingAndGlyphs" stroke="#333" stroke-width="0.12">Cerebral I/R</text><text x="199.1" y="324.0" font-size="5.9" fill="#333" textLength="28.4" lengthAdjust="spacingAndGlyphs" stroke="#333" stroke-width="0.12">(24-hours)</text><text transform="translate(184.6,278.7) rotate(-90)" font-size="7.2" fill="#333" stroke="#333" stroke-width="0.12" textLength="52.2" lengthAdjust="spacingAndGlyphs">Thrombosis index</text><circle cx="164.2" cy="189.9" r="1.3" fill="#d0102a"/><text x="168.2" y="192.5" font-size="7.1" fill="#333" font-style="italic" textLength="49.1" lengthAdjust="spacingAndGlyphs" stroke="#333" stroke-width="0.12">PKM2<tspan font-size="4.54" dy="-2.63">fl/fl</tspan><tspan dy="2.63">Apoe</tspan><tspan font-size="4.54" dy="-2.63">-/-</tspan></text><circle cx="164.2" cy="197.8" r="1.3" fill="#0b3a78"/><text x="168.2" y="200.6" font-size="7.1" fill="#333" font-style="italic" textLength="85.6" lengthAdjust="spacingAndGlyphs" stroke="#333" stroke-width="0.12">PKM2<tspan font-size="4.54" dy="-2.63">fl/fl</tspan><tspan dy="2.63">LysMCre</tspan><tspan font-size="4.54" dy="-2.63">+/-</tspan><tspan dy="2.63">Apoe</tspan><tspan font-size="4.54" dy="-2.63">-/-</tspan></text><text x="258.3" y="194.1" font-size="11.2" fill="#111" font-weight="bold">C</text><text x="283.6" y="204.2" font-size="6.4" fill="#333" textLength="39.4" lengthAdjust="spacingAndGlyphs" stroke="#333" stroke-width="0.12">Sham-surgery</text><line x1="275.9" y1="206.1" x2="326.7" y2="206.1" stroke="#999" stroke-width="1"/><text x="334" y="204.2" font-size="6.4" fill="#333" textLength="64.7" lengthAdjust="spacingAndGlyphs" stroke="#333" stroke-width="0.12">Cerebral I/R (23-hours)</text><line x1="334" y1="206.1" x2="388" y2="206.1" stroke="#999" stroke-width="1"/><text x="227.1" y="220.5" font-size="6.0" fill="#333" textLength="35.1" lengthAdjust="spacingAndGlyphs" stroke="#333" stroke-width="0.12">Fibrin(ogen)</text><text x="232.8" y="227.9" font-size="6.0" fill="#333" textLength="23.7" lengthAdjust="spacingAndGlyphs" stroke="#333" stroke-width="0.12">(56 kDa)</text><text x="239.2" y="240.6" font-size="6.0" fill="#333" textLength="19.8" lengthAdjust="spacingAndGlyphs" stroke="#333" stroke-width="0.12">β-actin</text><text x="237" y="248.4" font-size="6.0" fill="#333" textLength="24.2" lengthAdjust="spacingAndGlyphs" stroke="#333" stroke-width="0.12">(42 kDa)</text><text x="239.3" y="267.9" font-size="6.0" fill="#333" textLength="15.4" lengthAdjust="spacingAndGlyphs" stroke="#333" stroke-width="0.12">CD41</text><text x="233.8" y="275.4" font-size="6.0" fill="#333" textLength="26.8" lengthAdjust="spacingAndGlyphs" stroke="#333" stroke-width="0.12">(113 kDa)</text><text x="238.6" y="289.4" font-size="6.0" fill="#333" textLength="19.7" lengthAdjust="spacingAndGlyphs" stroke="#333" stroke-width="0.12">β-actin</text><text x="236.6" y="296.5" font-size="6.0" fill="#333" textLength="23.5" lengthAdjust="spacingAndGlyphs" stroke="#333" stroke-width="0.12">(42 kDa)</text><rect x="262.9" y="211.1" width="128.8" height="19.3" fill="url(#g1)"/><g filter="url(#bsoft2)"><path d="M275.2,213.9 Q282.0,213.0 288.8,213.9 L288.8,218.3 Q282.0,218.9 275.2,218.3 Z" fill="#bdbdbd"/><path d="M275.5,224.6 Q282.0,223.8 288.5,224.6 L288.5,226.7 Q282.0,227.2 275.5,226.7 Z" fill="#b4b4b4"/><path d="M289.4,213.9 Q296.1,213.0 302.9,213.9 L302.9,218.3 Q296.1,218.9 289.4,218.3 Z" fill="#bdbdbd"/><path d="M289.6,224.6 Q296.1,223.8 302.6,224.6 L302.6,226.7 Q296.1,227.2 289.6,226.7 Z" fill="#b4b4b4"/><path d="M303.6,213.9 Q310.4,213.0 317.1,213.9 L317.1,218.3 Q310.4,218.9 303.6,218.3 Z" fill="#bdbdbd"/><path d="M303.9,224.6 Q310.4,223.8 316.9,224.6 L316.9,226.7 Q310.4,227.2 303.9,226.7 Z" fill="#b4b4b4"/><path d="M317.8,213.9 Q324.5,213.0 331.2,213.9 L331.2,218.3 Q324.5,218.9 317.8,218.3 Z" fill="#bdbdbd"/><path d="M318.0,224.6 Q324.5,223.8 331.0,224.6 L331.0,226.7 Q324.5,227.2 318.0,226.7 Z" fill="#b4b4b4"/><path d="M333.6,213.5 Q340.3,212.8 347.1,213.5 L347.1,217.4 Q340.3,217.9 333.6,217.4 Z" fill="#a4a4a4"/><path d="M347.9,213.5 Q354.7,212.8 361.4,213.5 L361.4,217.4 Q354.7,217.9 347.9,217.4 Z" fill="#a4a4a4"/><path d="M363.1,215.7 Q369.6,214.9 376.1,215.7 L376.1,219.2 Q369.6,219.7 363.1,219.2 Z" fill="#cccccc"/><path d="M363.6,225.4 Q369.6,225.4 375.6,225.4 L375.6,227.0 Q369.6,227.0 363.6,227.0 Z" fill="#d2d2d2"/><path d="M377.7,215.7 Q384.2,214.9 390.7,215.7 L390.7,219.2 Q384.2,219.7 377.7,219.2 Z" fill="#cccccc"/><path d="M378.2,225.4 Q384.2,225.4 390.2,225.4 L390.2,227.0 Q384.2,227.0 378.2,227.0 Z" fill="#d2d2d2"/><path d="M264.0,216.2 Q268.0,216.2 272.0,216.2 L272.0,217.8 Q268.0,217.8 264.0,217.8 Z" fill="#cacaca"/></g><g filter="url(#bsoft)"><path d="M275.8,217.5 Q282.0,216.8 288.2,217.5 L288.2,218.6 Q282.0,219.1 275.8,218.6 Z" fill="#9a9a9a"/><path d="M289.9,217.5 Q296.1,216.8 302.4,217.5 L302.4,218.6 Q296.1,219.1 289.9,218.6 Z" fill="#9a9a9a"/><path d="M304.1,217.5 Q310.4,216.8 316.6,217.5 L316.6,218.6 Q310.4,219.1 304.1,218.6 Z" fill="#9a9a9a"/><path d="M318.2,217.5 Q324.5,216.8 330.8,217.5 L330.8,218.6 Q324.5,219.1 318.2,218.6 Z" fill="#9a9a9a"/><path d="M333.8,217.8 Q340.3,216.9 346.8,217.8 L346.8,220.6 Q340.3,221.2 333.8,220.6 Z" fill="#262626"/><path d="M334.1,225.5 Q340.3,225.0 346.6,225.5 L346.6,227.8 Q340.3,228.1 334.1,227.8 Z" fill="#3a3a3a"/><path d="M348.2,217.8 Q354.7,216.9 361.2,217.8 L361.2,220.6 Q354.7,221.2 348.2,220.6 Z" fill="#262626"/><path d="M348.4,225.5 Q354.7,225.0 360.9,225.5 L360.9,227.8 Q354.7,228.1 348.4,227.8 Z" fill="#3a3a3a"/><path d="M363.6,217.8 Q369.6,217.8 375.6,217.8 L375.6,219.4 Q369.6,219.4 363.6,219.4 Z" fill="#bcbcbc"/><path d="M378.2,217.8 Q384.2,217.8 390.2,217.8 L390.2,219.4 Q384.2,219.4 378.2,219.4 Z" fill="#bcbcbc"/></g><rect x="262.9" y="211.1" width="128.8" height="19.3" fill="none" stroke="#2a2a2a" stroke-width="0.9"/><rect x="262.9" y="233.4" width="128.8" height="18.8" fill="url(#g2)"/><g filter="url(#bsoft2)"><rect x="333.8" y="233.4" width="13" height="7.5" fill="#bdbdbd"/><rect x="348.2" y="233.4" width="13" height="7.5" fill="#bdbdbd"/><rect x="363.1" y="233.4" width="13" height="7.5" fill="#bdbdbd"/><rect x="377.7" y="233.4" width="13" height="7.5" fill="#bdbdbd"/><rect x="275.5" y="233.4" width="13" height="7.5" fill="#c6c6c6"/><rect x="289.6" y="233.4" width="13" height="7.5" fill="#c6c6c6"/><rect x="303.9" y="233.4" width="13" height="7.5" fill="#c6c6c6"/><rect x="318.0" y="233.4" width="13" height="7.5" fill="#c6c6c6"/></g><g filter="url(#bsoft2)"></g><g filter="url(#bsoft)"><path d="M275.8,238.8 Q282.0,237.9 288.2,238.8 L288.2,242.8 Q282.0,243.4 275.8,242.8 Z" fill="#141414"/><path d="M289.9,238.8 Q296.1,237.9 302.3,238.8 L302.3,242.8 Q296.1,243.4 289.9,242.8 Z" fill="#141414"/><path d="M304.2,238.8 Q310.4,237.9 316.6,238.8 L316.6,242.8 Q310.4,243.4 304.2,242.8 Z" fill="#141414"/><path d="M318.3,238.8 Q324.5,237.9 330.7,238.8 L330.7,242.8 Q324.5,243.4 318.3,242.8 Z" fill="#141414"/><path d="M334.1,238.8 Q340.3,237.9 346.5,238.8 L346.5,242.8 Q340.3,243.4 334.1,242.8 Z" fill="#141414"/><path d="M348.5,238.8 Q354.7,237.9 360.9,238.8 L360.9,242.8 Q354.7,243.4 348.5,242.8 Z" fill="#141414"/><path d="M363.4,238.8 Q369.6,237.9 375.8,238.8 L375.8,242.8 Q369.6,243.4 363.4,242.8 Z" fill="#141414"/><path d="M378.0,238.8 Q384.2,237.9 390.4,238.8 L390.4,242.8 Q384.2,243.4 378.0,242.8 Z" fill="#141414"/></g><rect x="262.9" y="233.4" width="128.8" height="18.8" fill="none" stroke="#2a2a2a" stroke-width="0.9"/><rect x="262.9" y="257.2" width="128.8" height="19.2" fill="url(#g3)"/><g filter="url(#bsoft2)"><path d="M275.8,263.4 Q282.0,263.4 288.2,263.4 L288.2,265.8 Q282.0,265.8 275.8,265.8 Z" fill="#c8c8c8"/><path d="M289.9,263.4 Q296.1,263.4 302.4,263.4 L302.4,265.8 Q296.1,265.8 289.9,265.8 Z" fill="#c8c8c8"/><path d="M304.1,263.4 Q310.4,263.4 316.6,263.4 L316.6,265.8 Q310.4,265.8 304.1,265.8 Z" fill="#c8c8c8"/><path d="M318.2,263.4 Q324.5,263.4 330.8,263.4 L330.8,265.8 Q324.5,265.8 318.2,265.8 Z" fill="#c8c8c8"/><path d="M333.6,260.8 Q340.3,259.6 347.1,260.8 L347.1,266.0 Q340.3,266.8 333.6,266.0 Z" fill="#8a8a8a"/><path d="M347.9,260.8 Q354.7,259.6 361.4,260.8 L361.4,266.0 Q354.7,266.8 347.9,266.0 Z" fill="#8a8a8a"/><path d="M363.4,262.5 Q369.6,262.5 375.9,262.5 L375.9,265.5 Q369.6,265.5 363.4,265.5 Z" fill="#bcbcbc"/><path d="M377.9,262.5 Q384.2,262.5 390.4,262.5 L390.4,265.5 Q384.2,265.5 377.9,265.5 Z" fill="#bcbcbc"/><path d="M263.5,264.3 Q267.5,264.3 271.5,264.3 L271.5,265.7 Q267.5,265.7 263.5,265.7 Z" fill="#b0b0b0"/><path d="M263.5,271.3 Q267.5,271.3 271.5,271.3 L271.5,272.7 Q267.5,272.7 263.5,272.7 Z" fill="#b0b0b0"/></g><g filter="url(#bsoft)"><path d="M334.3,262.5 Q340.3,261.6 346.3,262.5 L346.3,265.3 Q340.3,265.9 334.3,265.3 Z" fill="#6a6a6a"/><path d="M348.7,262.5 Q354.7,261.6 360.7,262.5 L360.7,265.3 Q354.7,265.9 348.7,265.3 Z" fill="#6a6a6a"/></g><rect x="262.9" y="257.2" width="128.8" height="19.2" fill="none" stroke="#2a2a2a" stroke-width="0.9"/><rect x="262.9" y="279.4" width="128.8" height="18.6" fill="url(#g4)"/><g filter="url(#bsoft2)"><path d="M287.59999999999997,298.0 L289.2,285.0 L290.8,298.0 Z" fill="#f0f0f0"/><path d="M301.7,298.0 L303.3,286.8 L304.90000000000003,298.0 Z" fill="#ececec"/><path d="M315.9,298.0 L317.5,287.8 L319.1,298.0 Z" fill="#e6e6e6"/><path d="M330.79999999999995,298.0 L332.4,285.0 L334.0,298.0 Z" fill="#eeeeee"/><path d="M360.5,298.0 L362.1,285.0 L363.70000000000005,298.0 Z" fill="#eeeeee"/><path d="M375.4,298.0 L377,287.8 L378.6,298.0 Z" fill="#e6e6e6"/></g><g filter="url(#bsoft2)"></g><g filter="url(#bsoft)"><path d="M275.8,286.2 Q282.0,285.0 288.2,286.2 L288.2,291.2 Q282.0,292.0 275.8,291.2 Z" fill="#101010"/><path d="M289.9,286.2 Q296.1,285.0 302.3,286.2 L302.3,291.2 Q296.1,292.0 289.9,291.2 Z" fill="#101010"/><path d="M304.2,286.2 Q310.4,285.0 316.6,286.2 L316.6,291.2 Q310.4,292.0 304.2,291.2 Z" fill="#101010"/><path d="M318.3,286.2 Q324.5,285.0 330.7,286.2 L330.7,291.2 Q324.5,292.0 318.3,291.2 Z" fill="#101010"/><path d="M334.1,286.2 Q340.3,285.0 346.5,286.2 L346.5,291.2 Q340.3,292.0 334.1,291.2 Z" fill="#101010"/><path d="M348.5,286.2 Q354.7,285.0 360.9,286.2 L360.9,291.2 Q354.7,292.0 348.5,291.2 Z" fill="#101010"/><path d="M363.4,286.2 Q369.6,285.0 375.8,286.2 L375.8,291.2 Q369.6,292.0 363.4,291.2 Z" fill="#101010"/><path d="M378.0,286.2 Q384.2,285.0 390.4,286.2 L390.4,291.2 Q384.2,292.0 378.0,291.2 Z" fill="#101010"/></g><rect x="262.9" y="279.4" width="128.8" height="18.6" fill="none" stroke="#2a2a2a" stroke-width="0.9"/><line x1="275.3" y1="307.8" x2="297.8" y2="307.8" stroke="#333" stroke-width="1"/><text x="280.75" y="305.8" font-size="6.4" fill="#333" text-anchor="middle" textLength="6.4" lengthAdjust="spacingAndGlyphs" stroke="#333" stroke-width="0.12">#1</text><text x="292.35" y="305.8" font-size="6.4" fill="#333" text-anchor="middle" textLength="7" lengthAdjust="spacingAndGlyphs" stroke="#333" stroke-width="0.12">#2</text><line x1="306.3" y1="307.8" x2="328.8" y2="307.8" stroke="#999" stroke-width="1"/><text x="311.75" y="305.8" font-size="6.4" fill="#333" text-anchor="middle" textLength="6.4" lengthAdjust="spacingAndGlyphs" stroke="#333" stroke-width="0.12">#1</text><text x="323.35" y="305.8" font-size="6.4" fill="#333" text-anchor="middle" textLength="7" lengthAdjust="spacingAndGlyphs" stroke="#333" stroke-width="0.12">#2</text><line x1="337.8" y1="307.8" x2="361" y2="307.8" stroke="#999" stroke-width="1"/><text x="343.6" y="305.8" font-size="6.4" fill="#333" text-anchor="middle" textLength="6.4" lengthAdjust="spacingAndGlyphs" stroke="#333" stroke-width="0.12">#1</text><text x="355.2" y="305.8" font-size="6.4" fill="#333" text-anchor="middle" textLength="7" lengthAdjust="spacingAndGlyphs" stroke="#333" stroke-width="0.12">#2</text><line x1="368.1" y1="307.8" x2="391.3" y2="307.8" stroke="#333" stroke-width="1"/><text x="373.9" y="305.8" font-size="6.4" fill="#333" text-anchor="middle" textLength="6.4" lengthAdjust="spacingAndGlyphs" stroke="#333" stroke-width="0.12">#1</text><text x="385.5" y="305.8" font-size="6.4" fill="#333" text-anchor="middle" textLength="7" lengthAdjust="spacingAndGlyphs" stroke="#333" stroke-width="0.12">#2</text><text x="284.2" y="315.2" font-size="5.6" fill="#555" text-anchor="middle" font-style="italic" textLength="18" lengthAdjust="spacingAndGlyphs" stroke="#555" stroke-width="0.12">PKM2<tspan font-size="3.58" dy="-2.07">fl/fl</tspan></text><text x="284.2" y="321.6" font-size="5.6" fill="#555" text-anchor="middle" font-style="italic" textLength="16.5" lengthAdjust="spacingAndGlyphs" stroke="#555" stroke-width="0.12">Apoe<tspan font-size="3.58" dy="-2.07">-/-</tspan></text><text x="317.4" y="315.2" font-size="5.6" fill="#555" text-anchor="middle" font-style="italic" textLength="35" lengthAdjust="spacingAndGlyphs" stroke="#555" stroke-width="0.12">PKM2<tspan font-size="3.58" dy="-2.07">fl/fl</tspan><tspan dy="2.07">Apoe</tspan><tspan font-size="3.58" dy="-2.07">-/-</tspan></text><text x="317.4" y="321.6" font-size="5.6" fill="#555" text-anchor="middle" font-style="italic" textLength="24.5" lengthAdjust="spacingAndGlyphs" stroke="#555" stroke-width="0.12">LysMCre<tspan font-size="3.58" dy="-2.07">+/-</tspan></text><text x="349.2" y="315.2" font-size="5.6" fill="#555" text-anchor="middle" font-style="italic" textLength="18" lengthAdjust="spacingAndGlyphs" stroke="#555" stroke-width="0.12">PKM2<tspan font-size="3.58" dy="-2.07">fl/fl</tspan></text><text x="349.2" y="321.6" font-size="5.6" fill="#555" text-anchor="middle" font-style="italic" textLength="16.5" lengthAdjust="spacingAndGlyphs" stroke="#555" stroke-width="0.12">Apoe<tspan font-size="3.58" dy="-2.07">-/-</tspan></text><text x="380.2" y="315.2" font-size="5.6" fill="#555" text-anchor="middle" font-style="italic" textLength="35" lengthAdjust="spacingAndGlyphs" stroke="#555" stroke-width="0.12">PKM2<tspan font-size="3.58" dy="-2.07">fl/fl</tspan><tspan dy="2.07">Apoe</tspan><tspan font-size="3.58" dy="-2.07">-/-</tspan></text><text x="380.2" y="321.6" font-size="5.6" fill="#555" text-anchor="middle" font-style="italic" textLength="24.5" lengthAdjust="spacingAndGlyphs" stroke="#555" stroke-width="0.12">LysMCre<tspan font-size="3.58" dy="-2.07">+/-</tspan></text><path d="M419.5,207.25 V310.0 H444.9" stroke="#222" stroke-width="1.1" fill="none"/><line x1="416.4" y1="310.00" x2="419.5" y2="310.00" stroke="#222" stroke-width="0.9"/><text x="415.5" y="312.2" font-size="6.1" fill="#333" text-anchor="end" stroke="#333" stroke-width="0.12">0</text><line x1="416.4" y1="275.75" x2="419.5" y2="275.75" stroke="#222" stroke-width="0.9"/><text x="415.5" y="277.95" font-size="6.1" fill="#333" text-anchor="end" stroke="#333" stroke-width="0.12">1</text><line x1="416.4" y1="241.50" x2="419.5" y2="241.50" stroke="#222" stroke-width="0.9"/><text x="415.5" y="243.7" font-size="6.1" fill="#333" text-anchor="end" stroke="#333" stroke-width="0.12">2</text><line x1="416.4" y1="207.25" x2="419.5" y2="207.25" stroke="#222" stroke-width="0.9"/><text x="415.5" y="209.45" font-size="6.1" fill="#333" text-anchor="end" stroke="#333" stroke-width="0.12">3</text><rect x="423.1" y="240.13" width="9.3" height="69.87" fill="#d9786b"/><rect x="434.1" y="269.58" width="8.6" height="40.42" fill="#82a5c2"/><path d="M427.5,235.1 V245.5 M425.0,235.1 H430.0 M425.0,245.5 H430.0" stroke="#d0102a" stroke-width="0.8" fill="none"/><circle cx="427.4" cy="227.5" r="1.2" fill="#d0102a"/><circle cx="427.5" cy="239.8" r="1.2" fill="#d0102a"/><circle cx="427.5" cy="242.2" r="1.2" fill="#d0102a"/><circle cx="427.4" cy="249.3" r="1.2" fill="#d0102a"/><path d="M438.6,262.6 V276.8 M436.1,262.6 H441.1 M436.1,276.8 H441.1" stroke="#0b3a78" stroke-width="0.8" fill="none"/><circle cx="435.9" cy="257.1" r="1.2" fill="#0b3a78"/><circle cx="441.1" cy="256.3" r="1.2" fill="#0b3a78"/><circle cx="435.9" cy="282.5" r="1.2" fill="#0b3a78"/><circle cx="440.5" cy="281" r="1.2" fill="#0b3a78"/><text x="425.7" y="222" font-size="7.2" fill="#333" textLength="23.9" lengthAdjust="spacingAndGlyphs" stroke="#333" stroke-width="0.12">P&lt;0.05</text><text x="419.5" y="319.5" font-size="6.1" fill="#333" textLength="35.3" lengthAdjust="spacingAndGlyphs" stroke="#333" stroke-width="0.12">Cerebral I/R</text><text x="421.6" y="325.6" font-size="5.9" fill="#333" textLength="29.7" lengthAdjust="spacingAndGlyphs" stroke="#333" stroke-width="0.12">(23-hours)</text><text transform="translate(409.9,319) rotate(-90)" font-size="7.0" fill="#333" stroke="#333" stroke-width="0.12" textLength="121" lengthAdjust="spacingAndGlyphs">Fibrin(ogen) intensity (relative to β-actin)</text><circle cx="418.8" cy="190.9" r="1.3" fill="#d0102a"/><text x="422.3" y="192.6" font-size="7.1" fill="#333" font-style="italic" textLength="49.8" lengthAdjust="spacingAndGlyphs" stroke="#333" stroke-width="0.12">PKM2<tspan font-size="4.54" dy="-2.63">fl/fl</tspan><tspan dy="2.63">Apoe</tspan><tspan font-size="4.54" dy="-2.63">-/-</tspan></text><circle cx="418.8" cy="199.1" r="1.3" fill="#0b3a78"/><text x="422.3" y="200.8" font-size="7.1" fill="#333" font-style="italic" textLength="85.2" lengthAdjust="spacingAndGlyphs" stroke="#333" stroke-width="0.12">PKM2<tspan font-size="4.54" dy="-2.63">fl/fl</tspan><tspan dy="2.63">LysMCre</tspan><tspan font-size="4.54" dy="-2.63">+/-</tspan><tspan dy="2.63">Apoe</tspan><tspan font-size="4.54" dy="-2.63">-/-</tspan></text><path d="M478.4,207.70 V311.0 H505.2" stroke="#222" stroke-width="1.1" fill="none"/><line x1="475.3" y1="311.00" x2="478.4" y2="311.00" stroke="#222" stroke-width="0.9"/><text x="474.4" y="313.2" font-size="6.1" fill="#333" text-anchor="end" stroke="#333" stroke-width="0.12">0.0</text><line x1="475.3" y1="290.34" x2="478.4" y2="290.34" stroke="#222" stroke-width="0.9"/><text x="474.4" y="292.54" font-size="6.1" fill="#333" text-anchor="end" stroke="#333" stroke-width="0.12">0.5</text><line x1="475.3" y1="269.68" x2="478.4" y2="269.68" stroke="#222" stroke-width="0.9"/><text x="474.4" y="271.88" font-size="6.1" fill="#333" text-anchor="end" stroke="#333" stroke-width="0.12">1.0</text><line x1="475.3" y1="249.02" x2="478.4" y2="249.02" stroke="#222" stroke-width="0.9"/><text x="474.4" y="251.22" font-size="6.1" fill="#333" text-anchor="end" stroke="#333" stroke-width="0.12">1.5</text><line x1="475.3" y1="228.36" x2="478.4" y2="228.36" stroke="#222" stroke-width="0.9"/><text x="474.4" y="230.56" font-size="6.1" fill="#333" text-anchor="end" stroke="#333" stroke-width="0.12">2.0</text><line x1="475.3" y1="207.70" x2="478.4" y2="207.70" stroke="#222" stroke-width="0.9"/><text x="474.4" y="209.9" font-size="6.1" fill="#333" text-anchor="end" stroke="#333" stroke-width="0.12">2.5</text><rect x="481.9" y="256.87" width="8.3" height="54.13" fill="#d9786b"/><rect x="493" y="292.41" width="8.5" height="18.59" fill="#82a5c2"/><path d="M485.9,244.3 V268.5 M483.4,244.3 H488.4 M483.4,268.5 H488.4" stroke="#d0102a" stroke-width="0.8" fill="none"/><circle cx="485.7" cy="231.4" r="1.2" fill="#d0102a"/><circle cx="485.7" cy="241.7" r="1.2" fill="#d0102a"/><circle cx="485.8" cy="273.8" r="1.2" fill="#d0102a"/><circle cx="485.8" cy="278.5" r="1.2" fill="#d0102a"/><path d="M496.9,285.5 V297.8 M494.4,285.5 H499.4 M494.4,297.8 H499.4" stroke="#0b3a78" stroke-width="0.8" fill="none"/><circle cx="496.7" cy="277.9" r="1.2" fill="#0b3a78"/><circle cx="496.9" cy="288.7" r="1.2" fill="#0b3a78"/><circle cx="496.9" cy="297.8" r="1.2" fill="#0b3a78"/><circle cx="496.9" cy="302" r="1.2" fill="#0b3a78"/><text x="484.5" y="227.6" font-size="7.2" fill="#333" textLength="23.6" lengthAdjust="spacingAndGlyphs" stroke="#333" stroke-width="0.12">P&lt;0.05</text><text x="479.4" y="319.5" font-size="6.1" fill="#333" textLength="34.3" lengthAdjust="spacingAndGlyphs" stroke="#333" stroke-width="0.12">Cerebral I/R</text><text x="481.9" y="325.6" font-size="5.9" fill="#333" textLength="28.6" lengthAdjust="spacingAndGlyphs" stroke="#333" stroke-width="0.12">(23-hours)</text><text transform="translate(459.4,309) rotate(-90)" font-size="7.0" fill="#333" stroke="#333" stroke-width="0.12" textLength="100.5" lengthAdjust="spacingAndGlyphs">CD41 intensity (relative to β-actin)</text><g fill="#0d0a0b"><rect x="0" y="0" width="1.4" height="331"/><rect x="518.45" y="0" width="1.55" height="331"/><rect x="0" y="0" width="520" height="1.1"/><rect x="0" y="329.8" width="520" height="1.2"/></g></svg></body></html>
